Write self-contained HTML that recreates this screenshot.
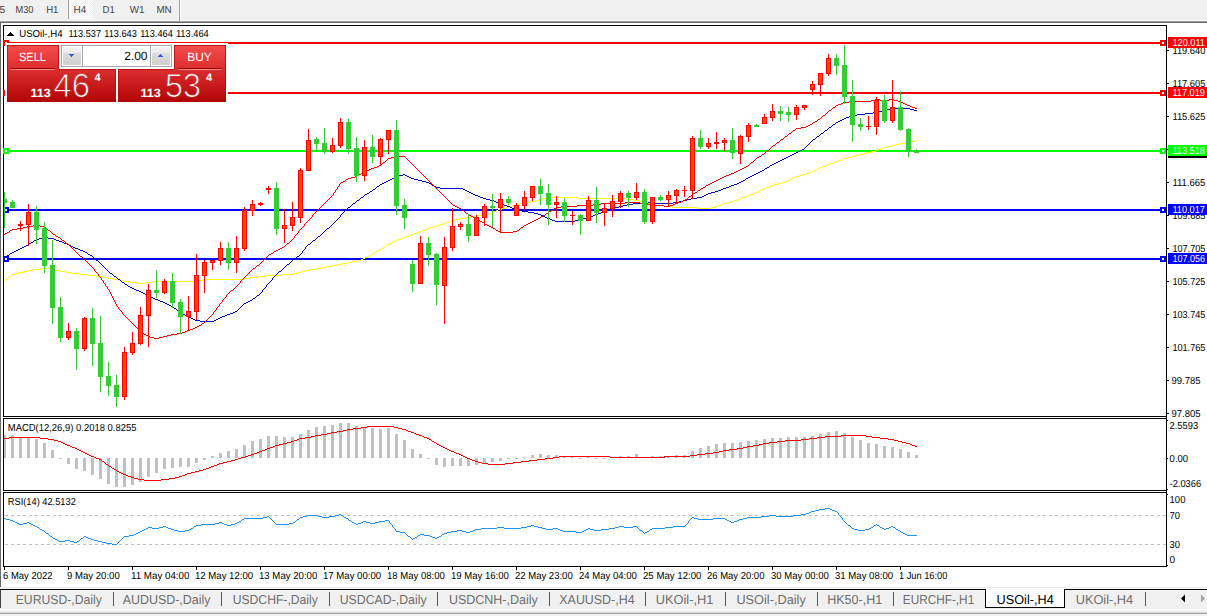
<!DOCTYPE html>
<html><head><meta charset="utf-8"><title>USOil-,H4</title>
<style>html,body{margin:0;padding:0;background:#fff;overflow:hidden}svg{display:block;font-family:"Liberation Sans",sans-serif;text-rendering:geometricPrecision}</style>
</head><body>
<svg width="1207" height="616" viewBox="0 0 1207 616" shape-rendering="crispEdges">
<defs>
<pattern id="chk" width="2" height="2" patternUnits="userSpaceOnUse"><rect width="2" height="2" fill="#f0f0f0"/><rect width="1" height="1" fill="#fff"/><rect x="1" y="1" width="1" height="1" fill="#fff"/></pattern>
<linearGradient id="gr" gradientUnits="userSpaceOnUse" x1="0" y1="45" x2="0" y2="102"><stop offset="0" stop-color="#f64d4d"/><stop offset="0.45" stop-color="#da2c2c"/><stop offset="1" stop-color="#b20505"/></linearGradient>
<linearGradient id="bt" x1="0" y1="0" x2="0" y2="1"><stop offset="0" stop-color="#f2f2f2"/><stop offset="0.35" stop-color="#ebebeb"/><stop offset="0.36" stop-color="#dcdcdc"/><stop offset="1" stop-color="#cfcfcf"/></linearGradient>
<clipPath id="cm"><rect x="4" y="26" width="1162" height="390"/></clipPath>
<clipPath id="cm2"><rect x="4" y="419" width="1162" height="71"/></clipPath>
</defs>
<rect x="0" y="0" width="1207" height="616" fill="#fff"/>
<rect x="0" y="0" width="1207" height="20" fill="#f0f0f0"/>
<rect x="0" y="20" width="1207" height="1" fill="#f8f8f8"/>
<rect x="0" y="21" width="1207" height="1" fill="#a0a0a0"/>
<rect x="0" y="22" width="1207" height="1" fill="#696969"/>
<rect x="0" y="22" width="1" height="565" fill="#696969"/>
<rect x="69" y="0" width="24" height="19" fill="url(#chk)"/>
<rect x="68" y="0" width="1" height="19" fill="#a0a0a0"/>
<rect x="179" y="0" width="1" height="21" fill="#a0a0a0"/>
<rect x="180" y="0" width="1" height="21" fill="#ffffff"/>
<text x="-0.5" y="13" font-size="10.2" fill="#3a3a3a">5</text>
<text x="15.5" y="13" font-size="10.2" fill="#444" textLength="18.0" lengthAdjust="spacingAndGlyphs">M30</text>
<text x="46.2" y="13" font-size="10.2" fill="#444" textLength="12.2" lengthAdjust="spacingAndGlyphs">H1</text>
<text x="73.5" y="13" font-size="10.2" fill="#444" textLength="12.7" lengthAdjust="spacingAndGlyphs">H4</text>
<text x="102.5" y="13" font-size="10.2" fill="#444" textLength="12.2" lengthAdjust="spacingAndGlyphs">D1</text>
<text x="129.8" y="13" font-size="10.2" fill="#444" textLength="14.8" lengthAdjust="spacingAndGlyphs">W1</text>
<text x="156.4" y="13" font-size="10.2" fill="#444" textLength="15.2" lengthAdjust="spacingAndGlyphs">MN</text>
<rect x="3" y="25" width="1164" height="1" fill="#000"/>
<rect x="3" y="25" width="1" height="542" fill="#000"/>
<rect x="1166" y="25" width="1" height="542" fill="#000"/>
<rect x="3" y="416" width="1164" height="1" fill="#000"/>
<rect x="3" y="417" width="1163" height="1" fill="#fff"/>
<rect x="3" y="418" width="1164" height="1" fill="#000"/>
<rect x="3" y="490" width="1164" height="1" fill="#000"/>
<rect x="3" y="491" width="1163" height="1" fill="#fff"/>
<rect x="3" y="492" width="1164" height="1" fill="#000"/>
<rect x="3" y="566" width="1164" height="1" fill="#000"/>
<rect x="4" y="42" width="1162" height="2" fill="#ff0000"/>
<rect x="3" y="40" width="6" height="6" fill="#ff0000"/>
<rect x="5" y="42" width="2" height="2" fill="#fff"/>
<rect x="1160" y="40" width="6" height="6" fill="#ff0000"/>
<rect x="1162" y="42" width="2" height="2" fill="#fff"/>
<rect x="4" y="92" width="1162" height="2" fill="#ff0000"/>
<rect x="3" y="90" width="6" height="6" fill="#ff0000"/>
<rect x="5" y="92" width="2" height="2" fill="#fff"/>
<rect x="1160" y="90" width="6" height="6" fill="#ff0000"/>
<rect x="1162" y="92" width="2" height="2" fill="#fff"/>
<rect x="4" y="150" width="1162" height="2" fill="#00ff00"/>
<rect x="3" y="148" width="6" height="6" fill="#00ff00"/>
<rect x="5" y="150" width="2" height="2" fill="#fff"/>
<rect x="1160" y="148" width="6" height="6" fill="#00ff00"/>
<rect x="1162" y="150" width="2" height="2" fill="#fff"/>
<rect x="4" y="209" width="1162" height="2" fill="#0000ff"/>
<rect x="3" y="207" width="6" height="6" fill="#0000ff"/>
<rect x="5" y="209" width="2" height="2" fill="#fff"/>
<rect x="1160" y="207" width="6" height="6" fill="#0000ff"/>
<rect x="1162" y="209" width="2" height="2" fill="#fff"/>
<rect x="4" y="258" width="1162" height="2" fill="#0000ff"/>
<rect x="3" y="256" width="6" height="6" fill="#0000ff"/>
<rect x="5" y="258" width="2" height="2" fill="#fff"/>
<rect x="1160" y="256" width="6" height="6" fill="#0000ff"/>
<rect x="1162" y="258" width="2" height="2" fill="#fff"/>
<path d="M915 140h2v1h-2zM911 141h4v1h-4zM905 142h6v1h-6zM899 143h6v1h-6zM895 144h4v1h-4zM891 145h4v1h-4zM887 146h4v1h-4zM883 147h4v1h-4zM881 148h2v1h-2zM878 149h3v1h-3zM875 150h3v1h-3zM871 151h4v1h-4zM867 152h4v1h-4zM863 153h4v1h-4zM859 154h4v1h-4zM855 155h4v1h-4zM851 156h4v1h-4zM847 157h4v1h-4zM843 158h4v1h-4zM841 159h2v1h-2zM838 160h3v1h-3zM835 161h3v1h-3zM833 162h2v1h-2zM830 163h3v1h-3zM827 164h3v1h-3zM825 165h2v1h-2zM822 166h3v1h-3zM820 167h2v1h-2zM818 168h2v1h-2zM816 169h2v1h-2zM814 170h2v1h-2zM811 171h3v1h-3zM809 172h2v1h-2zM806 173h3v1h-3zM803 174h3v1h-3zM799 175h4v1h-4zM795 176h4v1h-4zM793 177h2v1h-2zM791 178h2v1h-2zM789 179h2v1h-2zM787 180h2v1h-2zM785 181h2v1h-2zM782 182h3v1h-3zM778 183h4v1h-4zM774 184h4v1h-4zM771 185h3v1h-3zM769 186h2v1h-2zM766 187h3v1h-3zM764 188h2v1h-2zM762 189h2v1h-2zM760 190h2v1h-2zM758 191h2v1h-2zM755 192h3v1h-3zM753 193h2v1h-2zM750 194h3v1h-3zM747 195h3v1h-3zM745 196h2v1h-2zM547 197h31v1h-31zM742 197h3v1h-3zM543 198h4v1h-4zM578 198h48v1h-48zM739 198h3v1h-3zM539 199h4v1h-4zM626 199h8v1h-8zM737 199h2v1h-2zM535 200h4v1h-4zM634 200h5v1h-5zM734 200h3v1h-3zM529 201h6v1h-6zM639 201h4v1h-4zM731 201h3v1h-3zM523 202h6v1h-6zM643 202h4v1h-4zM727 202h4v1h-4zM519 203h4v1h-4zM647 203h4v1h-4zM723 203h4v1h-4zM515 204h4v1h-4zM651 204h5v1h-5zM721 204h2v1h-2zM512 205h3v1h-3zM656 205h8v1h-8zM718 205h3v1h-3zM508 206h4v1h-4zM664 206h8v1h-8zM715 206h3v1h-3zM505 207h3v1h-3zM672 207h25v1h-25zM711 207h4v1h-4zM502 208h3v1h-3zM697 208h14v1h-14zM498 209h4v1h-4zM496 210h2v1h-2zM494 211h2v1h-2zM492 212h2v1h-2zM490 213h2v1h-2zM483 214h7v1h-7zM475 215h8v1h-8zM471 216h4v1h-4zM465 217h6v1h-6zM459 218h6v1h-6zM455 219h4v1h-4zM451 220h4v1h-4zM449 221h2v1h-2zM446 222h3v1h-3zM443 223h3v1h-3zM440 224h3v1h-3zM437 225h3v1h-3zM433 226h4v1h-4zM430 227h3v1h-3zM427 228h3v1h-3zM425 229h2v1h-2zM422 230h3v1h-3zM419 231h3v1h-3zM417 232h2v1h-2zM414 233h3v1h-3zM411 234h3v1h-3zM409 235h2v1h-2zM406 236h3v1h-3zM403 237h3v1h-3zM401 238h2v1h-2zM398 239h3v1h-3zM396 240h2v1h-2zM394 241h2v1h-2zM392 242h2v1h-2zM390 243h2v1h-2zM388 244h2v1h-2zM386 245h2v1h-2zM385 246h1v1h-1zM383 247h2v1h-2zM381 248h2v1h-2zM379 249h2v1h-2zM378 250h1v1h-1zM376 251h2v1h-2zM374 252h2v1h-2zM373 253h1v1h-1zM371 254h2v1h-2zM369 255h2v1h-2zM367 256h2v1h-2zM365 257h2v1h-2zM363 258h2v1h-2zM361 259h2v1h-2zM357 260h4v1h-4zM352 261h5v1h-5zM347 262h5v1h-5zM342 263h5v1h-5zM337 264h5v1h-5zM332 265h5v1h-5zM326 266h6v1h-6zM321 267h5v1h-5zM41 268h9v1h-9zM315 268h6v1h-6zM33 269h8v1h-8zM50 269h4v1h-4zM309 269h6v1h-6zM27 270h6v1h-6zM54 270h5v1h-5zM305 270h4v1h-4zM23 271h4v1h-4zM59 271h6v1h-6zM301 271h4v1h-4zM19 272h4v1h-4zM65 272h7v1h-7zM298 272h3v1h-3zM15 273h4v1h-4zM72 273h8v1h-8zM294 273h4v1h-4zM12 274h3v1h-3zM80 274h8v1h-8zM281 274h13v1h-13zM11 275h1v1h-1zM88 275h8v1h-8zM265 275h16v1h-16zM9 276h2v1h-2zM96 276h7v1h-7zM257 276h8v1h-8zM8 277h1v1h-1zM103 277h5v1h-5zM250 277h7v1h-7zM7 278h1v1h-1zM108 278h6v1h-6zM244 278h6v1h-6zM5 279h2v1h-2zM114 279h5v1h-5zM203 279h41v1h-41zM4 280h1v1h-1zM119 280h5v1h-5zM197 280h6v1h-6zM124 281h6v1h-6zM153 281h44v1h-44zM130 282h7v1h-7zM145 282h8v1h-8zM137 283h8v1h-8z" fill="#ffff00"/>
<path d="M891 108h19v1h-19zM887 109h4v1h-4zM910 109h4v1h-4zM883 110h4v1h-4zM914 110h3v1h-3zM879 111h4v1h-4zM873 112h6v1h-6zM865 113h8v1h-8zM857 114h8v1h-8zM851 115h6v1h-6zM849 116h2v1h-2zM846 117h3v1h-3zM844 118h2v1h-2zM842 119h2v1h-2zM840 120h2v1h-2zM838 121h2v1h-2zM836 122h2v1h-2zM835 123h1v1h-1zM833 124h2v1h-2zM832 125h1v1h-1zM831 126h1v1h-1zM829 127h2v1h-2zM828 128h1v1h-1zM827 129h1v1h-1zM825 130h2v1h-2zM824 131h1v1h-1zM823 132h1v1h-1zM821 133h2v1h-2zM820 134h1v1h-1zM819 135h1v1h-1zM817 136h2v1h-2zM816 137h1v1h-1zM815 138h1v1h-1zM813 139h2v1h-2zM812 140h1v1h-1zM811 141h1v1h-1zM810 142h1v1h-1zM809 143h1v1h-1zM808 144h1v1h-1zM807 145h1v1h-1zM806 146h1v1h-1zM805 147h1v1h-1zM804 148h1v1h-1zM802 149h2v1h-2zM800 150h2v1h-2zM798 151h2v1h-2zM796 152h2v1h-2zM794 153h2v1h-2zM792 154h2v1h-2zM790 155h2v1h-2zM788 156h2v1h-2zM786 157h2v1h-2zM784 158h2v1h-2zM782 159h2v1h-2zM780 160h2v1h-2zM778 161h2v1h-2zM776 162h2v1h-2zM774 163h2v1h-2zM772 164h2v1h-2zM770 165h2v1h-2zM769 166h1v1h-1zM767 167h2v1h-2zM765 168h2v1h-2zM764 169h1v1h-1zM762 170h2v1h-2zM760 171h2v1h-2zM758 172h2v1h-2zM756 173h2v1h-2zM403 174h2v1h-2zM754 174h2v1h-2zM399 175h4v1h-4zM405 175h2v1h-2zM752 175h2v1h-2zM396 176h3v1h-3zM407 176h2v1h-2zM750 176h2v1h-2zM394 177h2v1h-2zM409 177h2v1h-2zM748 177h2v1h-2zM392 178h2v1h-2zM411 178h3v1h-3zM746 178h2v1h-2zM390 179h2v1h-2zM414 179h4v1h-4zM745 179h1v1h-1zM388 180h2v1h-2zM418 180h4v1h-4zM743 180h2v1h-2zM386 181h2v1h-2zM422 181h4v1h-4zM741 181h2v1h-2zM384 182h2v1h-2zM426 182h3v1h-3zM739 182h2v1h-2zM382 183h2v1h-2zM429 183h2v1h-2zM737 183h2v1h-2zM380 184h2v1h-2zM431 184h1v1h-1zM734 184h3v1h-3zM379 185h1v1h-1zM432 185h2v1h-2zM731 185h3v1h-3zM377 186h2v1h-2zM434 186h2v1h-2zM729 186h2v1h-2zM376 187h1v1h-1zM436 187h4v1h-4zM726 187h3v1h-3zM375 188h1v1h-1zM440 188h23v1h-23zM723 188h3v1h-3zM373 189h2v1h-2zM463 189h2v1h-2zM721 189h2v1h-2zM372 190h1v1h-1zM465 190h2v1h-2zM718 190h3v1h-3zM370 191h2v1h-2zM467 191h2v1h-2zM715 191h3v1h-3zM369 192h1v1h-1zM469 192h2v1h-2zM711 192h4v1h-4zM367 193h2v1h-2zM471 193h2v1h-2zM708 193h3v1h-3zM365 194h2v1h-2zM473 194h2v1h-2zM706 194h2v1h-2zM364 195h1v1h-1zM475 195h3v1h-3zM704 195h2v1h-2zM363 196h1v1h-1zM478 196h2v1h-2zM702 196h2v1h-2zM361 197h2v1h-2zM480 197h3v1h-3zM697 197h5v1h-5zM360 198h1v1h-1zM483 198h3v1h-3zM691 198h6v1h-6zM359 199h1v1h-1zM486 199h4v1h-4zM687 199h4v1h-4zM357 200h2v1h-2zM490 200h4v1h-4zM683 200h4v1h-4zM356 201h1v1h-1zM494 201h2v1h-2zM679 201h4v1h-4zM355 202h1v1h-1zM496 202h3v1h-3zM648 202h2v1h-2zM673 202h6v1h-6zM353 203h2v1h-2zM499 203h3v1h-3zM633 203h10v1h-10zM646 203h2v1h-2zM650 203h23v1h-23zM352 204h1v1h-1zM502 204h2v1h-2zM627 204h6v1h-6zM643 204h3v1h-3zM351 205h1v1h-1zM504 205h3v1h-3zM623 205h4v1h-4zM350 206h1v1h-1zM507 206h3v1h-3zM619 206h4v1h-4zM348 207h2v1h-2zM510 207h2v1h-2zM615 207h4v1h-4zM347 208h1v1h-1zM512 208h3v1h-3zM611 208h4v1h-4zM346 209h1v1h-1zM515 209h3v1h-3zM609 209h2v1h-2zM345 210h1v1h-1zM518 210h4v1h-4zM606 210h3v1h-3zM344 211h1v1h-1zM522 211h6v1h-6zM603 211h3v1h-3zM343 212h1v1h-1zM528 212h6v1h-6zM601 212h2v1h-2zM342 213h1v1h-1zM534 213h4v1h-4zM598 213h3v1h-3zM341 214h1v1h-1zM538 214h3v1h-3zM595 214h3v1h-3zM340 215h1v2h-1zM541 215h2v1h-2zM593 215h2v1h-2zM543 216h2v1h-2zM590 216h3v1h-3zM339 217h1v1h-1zM545 217h2v1h-2zM587 217h3v1h-3zM338 218h1v1h-1zM547 218h3v1h-3zM583 218h4v1h-4zM337 219h1v1h-1zM550 219h2v1h-2zM579 219h4v1h-4zM336 220h1v1h-1zM552 220h3v1h-3zM575 220h4v1h-4zM335 221h1v1h-1zM555 221h20v1h-20zM334 222h1v1h-1zM333 223h1v1h-1zM332 224h1v1h-1zM331 225h1v1h-1zM330 226h1v1h-1zM329 227h1v1h-1zM327 228h2v1h-2zM326 229h1v1h-1zM325 230h1v1h-1zM324 231h1v1h-1zM323 232h1v1h-1zM322 233h1v1h-1zM321 234h1v1h-1zM320 235h1v1h-1zM318 236h2v1h-2zM43 237h5v1h-5zM317 237h1v1h-1zM39 238h4v1h-4zM48 238h6v1h-6zM316 238h1v1h-1zM36 239h3v1h-3zM54 239h2v1h-2zM315 239h1v1h-1zM34 240h2v1h-2zM56 240h3v1h-3zM313 240h2v1h-2zM33 241h1v1h-1zM59 241h3v1h-3zM312 241h1v1h-1zM31 242h2v1h-2zM62 242h2v1h-2zM311 242h1v1h-1zM29 243h2v1h-2zM64 243h3v1h-3zM310 243h1v1h-1zM28 244h1v1h-1zM67 244h2v1h-2zM308 244h2v1h-2zM26 245h2v1h-2zM69 245h2v1h-2zM307 245h1v1h-1zM24 246h2v1h-2zM71 246h2v1h-2zM306 246h1v1h-1zM22 247h2v1h-2zM73 247h2v1h-2zM305 247h1v2h-1zM20 248h2v1h-2zM75 248h3v1h-3zM18 249h2v1h-2zM78 249h2v1h-2zM304 249h1v1h-1zM16 250h2v1h-2zM80 250h3v1h-3zM303 250h1v1h-1zM14 251h2v1h-2zM83 251h2v1h-2zM302 251h1v2h-1zM12 252h2v1h-2zM85 252h2v1h-2zM10 253h2v1h-2zM87 253h1v1h-1zM301 253h1v1h-1zM9 254h1v1h-1zM88 254h2v1h-2zM300 254h1v1h-1zM7 255h2v1h-2zM90 255h2v1h-2zM299 255h1v1h-1zM5 256h2v1h-2zM92 256h1v1h-1zM297 256h2v1h-2zM4 257h1v1h-1zM93 257h1v1h-1zM296 257h1v1h-1zM94 258h1v1h-1zM295 258h1v1h-1zM95 259h1v1h-1zM293 259h2v1h-2zM96 260h2v1h-2zM292 260h1v1h-1zM98 261h1v1h-1zM291 261h1v1h-1zM99 262h1v1h-1zM290 262h1v1h-1zM100 263h1v1h-1zM289 263h1v1h-1zM101 264h1v1h-1zM287 264h2v1h-2zM102 265h1v1h-1zM286 265h1v1h-1zM103 266h1v1h-1zM285 266h1v1h-1zM104 267h1v1h-1zM284 267h1v1h-1zM105 268h1v1h-1zM283 268h1v1h-1zM106 269h1v1h-1zM282 269h1v1h-1zM107 270h1v1h-1zM281 270h1v1h-1zM108 271h1v1h-1zM279 271h2v1h-2zM109 272h1v1h-1zM278 272h1v1h-1zM110 273h2v1h-2zM277 273h1v1h-1zM112 274h1v1h-1zM276 274h1v1h-1zM113 275h1v1h-1zM275 275h1v1h-1zM114 276h2v1h-2zM274 276h1v1h-1zM116 277h1v1h-1zM273 277h1v1h-1zM117 278h1v1h-1zM272 278h1v2h-1zM118 279h2v1h-2zM120 280h1v1h-1zM271 280h1v1h-1zM121 281h1v1h-1zM270 281h1v1h-1zM122 282h2v1h-2zM269 282h1v1h-1zM124 283h1v1h-1zM268 283h1v1h-1zM125 284h2v1h-2zM267 284h1v1h-1zM127 285h1v1h-1zM266 285h1v2h-1zM128 286h2v1h-2zM130 287h2v1h-2zM265 287h1v1h-1zM132 288h2v1h-2zM264 288h1v1h-1zM134 289h2v1h-2zM263 289h1v1h-1zM136 290h3v1h-3zM262 290h1v2h-1zM139 291h2v1h-2zM141 292h2v1h-2zM261 292h1v1h-1zM143 293h2v1h-2zM260 293h1v1h-1zM145 294h2v1h-2zM259 294h1v1h-1zM147 295h2v1h-2zM257 295h2v1h-2zM149 296h2v1h-2zM256 296h1v1h-1zM151 297h2v1h-2zM255 297h1v1h-1zM153 298h2v1h-2zM253 298h2v1h-2zM155 299h3v1h-3zM252 299h1v1h-1zM158 300h2v1h-2zM250 300h2v1h-2zM160 301h3v1h-3zM248 301h2v1h-2zM163 302h2v1h-2zM246 302h2v1h-2zM165 303h2v1h-2zM244 303h2v1h-2zM167 304h2v1h-2zM243 304h1v1h-1zM169 305h2v1h-2zM242 305h1v1h-1zM171 306h2v1h-2zM241 306h1v1h-1zM173 307h1v1h-1zM240 307h1v1h-1zM174 308h2v1h-2zM239 308h1v1h-1zM176 309h1v1h-1zM238 309h1v1h-1zM177 310h1v1h-1zM237 310h1v1h-1zM178 311h2v1h-2zM235 311h2v1h-2zM180 312h1v1h-1zM233 312h2v1h-2zM181 313h2v1h-2zM230 313h3v1h-3zM183 314h2v1h-2zM227 314h3v1h-3zM185 315h2v1h-2zM225 315h2v1h-2zM187 316h2v1h-2zM222 316h3v1h-3zM189 317h2v1h-2zM220 317h2v1h-2zM191 318h2v1h-2zM218 318h2v1h-2zM193 319h2v1h-2zM216 319h2v1h-2zM195 320h5v1h-5zM214 320h2v1h-2zM200 321h14v1h-14z" fill="#0000cd"/>
<path d="M875 99h5v1h-5zM889 99h5v1h-5zM871 100h4v1h-4zM880 100h9v1h-9zM894 100h4v1h-4zM849 101h22v1h-22zM898 101h3v1h-3zM843 102h6v1h-6zM901 102h2v1h-2zM841 103h2v1h-2zM903 103h2v1h-2zM838 104h3v1h-3zM905 104h2v1h-2zM836 105h2v1h-2zM907 105h3v1h-3zM835 106h1v1h-1zM910 106h2v1h-2zM833 107h2v1h-2zM912 107h3v1h-3zM832 108h1v1h-1zM915 108h2v1h-2zM831 109h1v1h-1zM829 110h2v1h-2zM828 111h1v1h-1zM827 112h1v1h-1zM826 113h1v1h-1zM825 114h1v1h-1zM823 115h2v1h-2zM822 116h1v1h-1zM821 117h1v1h-1zM820 118h1v1h-1zM818 119h2v1h-2zM817 120h1v1h-1zM815 121h2v1h-2zM813 122h2v1h-2zM812 123h1v1h-1zM810 124h2v1h-2zM808 125h2v1h-2zM806 126h2v1h-2zM801 127h5v1h-5zM796 128h5v1h-5zM795 129h1v1h-1zM793 130h2v1h-2zM792 131h1v1h-1zM791 132h1v1h-1zM789 133h2v1h-2zM788 134h1v1h-1zM787 135h1v1h-1zM785 136h2v1h-2zM784 137h1v1h-1zM783 138h1v1h-1zM781 139h2v1h-2zM780 140h1v1h-1zM779 141h1v1h-1zM777 142h2v1h-2zM776 143h1v1h-1zM775 144h1v1h-1zM773 145h2v1h-2zM772 146h1v1h-1zM771 147h1v1h-1zM770 148h1v1h-1zM769 149h1v1h-1zM767 150h2v1h-2zM766 151h1v1h-1zM765 152h1v1h-1zM764 153h1v1h-1zM762 154h2v1h-2zM761 155h1v1h-1zM395 156h10v1h-10zM759 156h2v1h-2zM391 157h4v1h-4zM405 157h1v1h-1zM757 157h2v1h-2zM388 158h3v1h-3zM406 158h1v1h-1zM756 158h1v1h-1zM387 159h1v1h-1zM407 159h1v1h-1zM755 159h1v1h-1zM386 160h1v1h-1zM408 160h1v1h-1zM754 160h1v1h-1zM385 161h1v1h-1zM409 161h1v1h-1zM753 161h1v1h-1zM383 162h2v1h-2zM410 162h1v1h-1zM751 162h2v1h-2zM382 163h1v1h-1zM411 163h1v1h-1zM750 163h1v1h-1zM381 164h1v1h-1zM412 164h1v1h-1zM749 164h1v1h-1zM379 165h2v1h-2zM413 165h1v1h-1zM748 165h1v1h-1zM377 166h2v1h-2zM414 166h1v1h-1zM746 166h2v1h-2zM374 167h3v1h-3zM415 167h1v1h-1zM744 167h2v1h-2zM371 168h3v1h-3zM416 168h1v1h-1zM742 168h2v1h-2zM369 169h2v1h-2zM417 169h1v1h-1zM740 169h2v1h-2zM366 170h3v1h-3zM418 170h1v1h-1zM738 170h2v1h-2zM364 171h2v1h-2zM419 171h1v1h-1zM736 171h2v1h-2zM362 172h2v1h-2zM420 172h1v1h-1zM734 172h2v1h-2zM361 173h1v1h-1zM421 173h1v1h-1zM731 173h3v1h-3zM359 174h2v1h-2zM422 174h1v1h-1zM729 174h2v1h-2zM357 175h2v1h-2zM423 175h1v1h-1zM726 175h3v1h-3zM355 176h2v1h-2zM424 176h1v1h-1zM724 176h2v1h-2zM351 177h4v1h-4zM425 177h1v1h-1zM722 177h2v1h-2zM348 178h3v1h-3zM426 178h1v1h-1zM720 178h2v1h-2zM346 179h2v1h-2zM427 179h1v1h-1zM718 179h2v1h-2zM345 180h1v1h-1zM428 180h1v1h-1zM716 180h2v1h-2zM343 181h2v1h-2zM429 181h1v1h-1zM714 181h2v1h-2zM341 182h2v1h-2zM430 182h1v1h-1zM712 182h2v1h-2zM340 183h1v1h-1zM431 183h1v1h-1zM710 183h2v1h-2zM339 184h1v2h-1zM432 184h1v1h-1zM708 184h2v1h-2zM433 185h1v1h-1zM706 185h2v1h-2zM338 186h1v1h-1zM434 186h1v1h-1zM705 186h1v1h-1zM337 187h1v2h-1zM435 187h1v1h-1zM703 187h2v1h-2zM436 188h1v1h-1zM701 188h2v1h-2zM336 189h1v1h-1zM437 189h1v1h-1zM700 189h1v1h-1zM335 190h1v2h-1zM438 190h1v1h-1zM698 190h2v1h-2zM439 191h1v1h-1zM697 191h1v1h-1zM334 192h1v1h-1zM440 192h1v1h-1zM695 192h2v1h-2zM333 193h1v2h-1zM441 193h1v1h-1zM693 193h2v1h-2zM442 194h1v1h-1zM692 194h1v1h-1zM332 195h1v1h-1zM443 195h1v1h-1zM691 195h1v1h-1zM331 196h1v1h-1zM444 196h1v1h-1zM689 196h2v1h-2zM330 197h1v1h-1zM445 197h1v1h-1zM688 197h1v1h-1zM329 198h1v1h-1zM446 198h1v1h-1zM687 198h1v1h-1zM328 199h1v1h-1zM447 199h1v1h-1zM685 199h2v1h-2zM327 200h1v1h-1zM448 200h1v1h-1zM683 200h2v1h-2zM326 201h1v1h-1zM449 201h1v1h-1zM681 201h2v1h-2zM325 202h1v1h-1zM450 202h1v1h-1zM625 202h15v1h-15zM678 202h3v1h-3zM324 203h1v1h-1zM451 203h1v1h-1zM601 203h24v1h-24zM640 203h6v1h-6zM675 203h3v1h-3zM323 204h1v1h-1zM452 204h1v1h-1zM593 204h8v1h-8zM646 204h4v1h-4zM673 204h2v1h-2zM322 205h1v1h-1zM453 205h2v1h-2zM577 205h16v1h-16zM650 205h14v1h-14zM670 205h3v1h-3zM321 206h1v1h-1zM455 206h2v1h-2zM561 206h16v1h-16zM664 206h6v1h-6zM320 207h1v1h-1zM457 207h2v1h-2zM556 207h5v1h-5zM319 208h1v1h-1zM459 208h2v1h-2zM554 208h2v1h-2zM318 209h1v1h-1zM461 209h1v1h-1zM553 209h1v1h-1zM317 210h1v1h-1zM462 210h2v1h-2zM551 210h2v1h-2zM316 211h1v1h-1zM464 211h1v1h-1zM549 211h2v1h-2zM315 212h1v1h-1zM465 212h1v1h-1zM548 212h1v1h-1zM314 213h1v1h-1zM466 213h2v1h-2zM546 213h2v1h-2zM313 214h1v1h-1zM468 214h1v1h-1zM545 214h1v1h-1zM312 215h1v2h-1zM469 215h2v1h-2zM543 215h2v1h-2zM471 216h2v1h-2zM541 216h2v1h-2zM311 217h1v1h-1zM473 217h2v1h-2zM540 217h1v1h-1zM310 218h1v1h-1zM475 218h2v1h-2zM538 218h2v1h-2zM309 219h1v1h-1zM477 219h2v1h-2zM536 219h2v1h-2zM308 220h1v1h-1zM479 220h1v1h-1zM534 220h2v1h-2zM307 221h1v1h-1zM480 221h2v1h-2zM532 221h2v1h-2zM306 222h1v1h-1zM482 222h2v1h-2zM530 222h2v1h-2zM305 223h1v1h-1zM484 223h1v1h-1zM528 223h2v1h-2zM304 224h1v2h-1zM485 224h2v1h-2zM526 224h2v1h-2zM33 225h7v1h-7zM487 225h2v1h-2zM524 225h2v1h-2zM27 226h6v1h-6zM40 226h5v1h-5zM303 226h1v1h-1zM489 226h2v1h-2zM523 226h1v1h-1zM23 227h4v1h-4zM45 227h1v1h-1zM302 227h1v1h-1zM491 227h2v1h-2zM521 227h2v1h-2zM17 228h6v1h-6zM46 228h1v1h-1zM301 228h1v1h-1zM493 228h2v1h-2zM520 228h1v1h-1zM12 229h5v1h-5zM47 229h1v1h-1zM300 229h1v1h-1zM495 229h1v1h-1zM519 229h1v1h-1zM10 230h2v1h-2zM48 230h2v1h-2zM299 230h1v1h-1zM496 230h2v1h-2zM517 230h2v1h-2zM9 231h1v1h-1zM50 231h1v1h-1zM298 231h1v2h-1zM498 231h2v1h-2zM513 231h4v1h-4zM7 232h2v1h-2zM51 232h1v1h-1zM500 232h13v1h-13zM5 233h2v1h-2zM52 233h1v1h-1zM297 233h1v1h-1zM4 234h1v1h-1zM53 234h2v1h-2zM296 234h1v1h-1zM55 235h1v1h-1zM295 235h1v1h-1zM56 236h2v1h-2zM294 236h1v2h-1zM58 237h2v1h-2zM60 238h1v1h-1zM293 238h1v1h-1zM61 239h1v1h-1zM292 239h1v1h-1zM62 240h2v1h-2zM291 240h1v1h-1zM64 241h1v1h-1zM290 241h1v1h-1zM65 242h1v1h-1zM289 242h1v1h-1zM66 243h2v1h-2zM287 243h2v1h-2zM68 244h1v1h-1zM286 244h1v1h-1zM69 245h1v1h-1zM285 245h1v1h-1zM70 246h1v1h-1zM284 246h1v1h-1zM71 247h1v1h-1zM282 247h2v1h-2zM72 248h1v1h-1zM280 248h2v1h-2zM73 249h1v1h-1zM278 249h2v1h-2zM74 250h1v1h-1zM276 250h2v1h-2zM75 251h1v1h-1zM274 251h2v1h-2zM76 252h1v1h-1zM273 252h1v1h-1zM77 253h1v1h-1zM271 253h2v1h-2zM78 254h1v1h-1zM269 254h2v1h-2zM79 255h1v1h-1zM268 255h1v1h-1zM80 256h2v1h-2zM267 256h1v1h-1zM82 257h1v1h-1zM266 257h1v1h-1zM83 258h1v1h-1zM265 258h1v1h-1zM84 259h1v1h-1zM264 259h1v1h-1zM85 260h1v1h-1zM263 260h1v1h-1zM86 261h1v1h-1zM262 261h1v1h-1zM87 262h1v1h-1zM261 262h1v1h-1zM88 263h1v1h-1zM260 263h1v1h-1zM89 264h1v1h-1zM259 264h1v1h-1zM90 265h1v1h-1zM257 265h2v1h-2zM91 266h1v1h-1zM256 266h1v1h-1zM92 267h1v1h-1zM255 267h1v1h-1zM93 268h1v1h-1zM253 268h2v1h-2zM94 269h1v2h-1zM252 269h1v1h-1zM251 270h1v1h-1zM95 271h1v1h-1zM250 271h1v1h-1zM96 272h1v1h-1zM249 272h1v1h-1zM97 273h1v1h-1zM248 273h1v1h-1zM98 274h1v2h-1zM247 274h1v1h-1zM246 275h1v1h-1zM99 276h1v1h-1zM245 276h1v1h-1zM100 277h1v1h-1zM244 277h1v1h-1zM101 278h1v2h-1zM243 278h1v1h-1zM242 279h1v1h-1zM102 280h1v1h-1zM241 280h1v1h-1zM103 281h1v2h-1zM240 281h1v2h-1zM104 283h1v1h-1zM239 283h1v1h-1zM105 284h1v2h-1zM238 284h1v1h-1zM237 285h1v1h-1zM106 286h1v1h-1zM236 286h1v1h-1zM107 287h1v2h-1zM235 287h1v1h-1zM234 288h1v1h-1zM108 289h1v1h-1zM233 289h1v1h-1zM109 290h1v2h-1zM231 290h2v1h-2zM230 291h1v1h-1zM110 292h1v2h-1zM229 292h1v1h-1zM228 293h1v1h-1zM111 294h1v2h-1zM227 294h1v1h-1zM226 295h1v2h-1zM112 296h1v2h-1zM225 297h1v1h-1zM113 298h1v2h-1zM224 298h1v1h-1zM223 299h1v1h-1zM114 300h1v2h-1zM222 300h1v2h-1zM115 302h1v2h-1zM221 302h1v1h-1zM220 303h1v1h-1zM116 304h1v2h-1zM219 304h1v2h-1zM117 306h1v1h-1zM218 306h1v1h-1zM118 307h1v2h-1zM217 307h1v1h-1zM216 308h1v2h-1zM119 309h1v1h-1zM120 310h1v1h-1zM215 310h1v1h-1zM121 311h1v1h-1zM214 311h1v1h-1zM122 312h1v2h-1zM213 312h1v2h-1zM123 314h1v1h-1zM212 314h1v1h-1zM124 315h1v1h-1zM211 315h1v1h-1zM125 316h1v1h-1zM210 316h1v1h-1zM126 317h1v1h-1zM209 317h1v1h-1zM127 318h1v1h-1zM208 318h1v1h-1zM128 319h1v1h-1zM207 319h1v1h-1zM129 320h1v1h-1zM206 320h1v1h-1zM130 321h1v1h-1zM205 321h1v1h-1zM131 322h1v1h-1zM204 322h1v1h-1zM132 323h1v1h-1zM202 323h2v1h-2zM133 324h1v1h-1zM201 324h1v1h-1zM134 325h1v1h-1zM199 325h2v1h-2zM135 326h1v1h-1zM197 326h2v1h-2zM136 327h1v1h-1zM195 327h2v1h-2zM137 328h1v1h-1zM193 328h2v1h-2zM138 329h1v1h-1zM190 329h3v1h-3zM139 330h1v1h-1zM187 330h3v1h-3zM140 331h1v1h-1zM185 331h2v1h-2zM141 332h2v1h-2zM182 332h3v1h-3zM143 333h1v1h-1zM177 333h5v1h-5zM144 334h2v1h-2zM171 334h6v1h-6zM146 335h2v1h-2zM167 335h4v1h-4zM148 336h2v1h-2zM163 336h4v1h-4zM150 337h4v1h-4zM159 337h4v1h-4zM154 338h5v1h-5z" fill="#ff0000"/>
<g clip-path="url(#cm)">
<rect x="4" y="192" width="1" height="36" fill="#32cd32"/>
<rect x="2" y="199" width="5" height="4" fill="#32cd32"/>
<rect x="12" y="200" width="1" height="8" fill="#32cd32"/>
<rect x="10" y="202" width="5" height="6" fill="#32cd32"/>
<rect x="20" y="221" width="1" height="10" fill="#ff0000"/>
<rect x="18" y="224" width="5" height="2" fill="#ff0000"/>
<rect x="28" y="204" width="1" height="42" fill="#ff0000"/>
<rect x="26" y="212" width="5" height="13" fill="#ff0000"/>
<rect x="27" y="213" width="3" height="11" fill="#ff4500"/>
<rect x="36" y="206" width="1" height="38" fill="#32cd32"/>
<rect x="34" y="212" width="5" height="18" fill="#32cd32"/>
<rect x="44" y="222" width="1" height="51" fill="#32cd32"/>
<rect x="42" y="228" width="5" height="38" fill="#32cd32"/>
<rect x="52" y="240" width="1" height="84" fill="#32cd32"/>
<rect x="50" y="265" width="5" height="43" fill="#32cd32"/>
<rect x="60" y="297" width="1" height="45" fill="#32cd32"/>
<rect x="58" y="307" width="5" height="31" fill="#32cd32"/>
<rect x="68" y="323" width="1" height="17" fill="#ff0000"/>
<rect x="66" y="331" width="5" height="7" fill="#ff0000"/>
<rect x="67" y="332" width="3" height="5" fill="#ff4500"/>
<rect x="76" y="328" width="1" height="42" fill="#32cd32"/>
<rect x="74" y="331" width="5" height="18" fill="#32cd32"/>
<rect x="84" y="317" width="1" height="34" fill="#ff0000"/>
<rect x="82" y="318" width="5" height="31" fill="#ff0000"/>
<rect x="83" y="319" width="3" height="29" fill="#ff4500"/>
<rect x="92" y="308" width="1" height="58" fill="#32cd32"/>
<rect x="90" y="318" width="5" height="26" fill="#32cd32"/>
<rect x="100" y="316" width="1" height="76" fill="#32cd32"/>
<rect x="98" y="343" width="5" height="34" fill="#32cd32"/>
<rect x="108" y="362" width="1" height="34" fill="#32cd32"/>
<rect x="106" y="376" width="5" height="10" fill="#32cd32"/>
<rect x="116" y="375" width="1" height="32" fill="#32cd32"/>
<rect x="114" y="385" width="5" height="12" fill="#32cd32"/>
<rect x="124" y="347" width="1" height="53" fill="#ff0000"/>
<rect x="122" y="352" width="5" height="45" fill="#ff0000"/>
<rect x="123" y="353" width="3" height="43" fill="#ff4500"/>
<rect x="132" y="332" width="1" height="23" fill="#ff0000"/>
<rect x="130" y="343" width="5" height="10" fill="#ff0000"/>
<rect x="131" y="344" width="3" height="8" fill="#ff4500"/>
<rect x="140" y="307" width="1" height="38" fill="#ff0000"/>
<rect x="138" y="315" width="5" height="29" fill="#ff0000"/>
<rect x="139" y="316" width="3" height="27" fill="#ff4500"/>
<rect x="148" y="284" width="1" height="63" fill="#ff0000"/>
<rect x="146" y="290" width="5" height="26" fill="#ff0000"/>
<rect x="147" y="291" width="3" height="24" fill="#ff4500"/>
<rect x="156" y="270" width="1" height="28" fill="#32cd32"/>
<rect x="154" y="290" width="5" height="3" fill="#32cd32"/>
<rect x="164" y="279" width="1" height="15" fill="#ff0000"/>
<rect x="162" y="281" width="5" height="12" fill="#ff0000"/>
<rect x="163" y="282" width="3" height="10" fill="#ff4500"/>
<rect x="172" y="273" width="1" height="35" fill="#32cd32"/>
<rect x="170" y="281" width="5" height="22" fill="#32cd32"/>
<rect x="180" y="299" width="1" height="35" fill="#32cd32"/>
<rect x="178" y="302" width="5" height="15" fill="#32cd32"/>
<rect x="188" y="296" width="1" height="35" fill="#ff0000"/>
<rect x="186" y="311" width="5" height="6" fill="#ff0000"/>
<rect x="187" y="312" width="3" height="4" fill="#ff4500"/>
<rect x="196" y="254" width="1" height="66" fill="#ff0000"/>
<rect x="194" y="275" width="5" height="37" fill="#ff0000"/>
<rect x="195" y="276" width="3" height="35" fill="#ff4500"/>
<rect x="204" y="260" width="1" height="33" fill="#ff0000"/>
<rect x="202" y="262" width="5" height="14" fill="#ff0000"/>
<rect x="203" y="263" width="3" height="12" fill="#ff4500"/>
<rect x="212" y="260" width="1" height="10" fill="#ff0000"/>
<rect x="210" y="260" width="5" height="3" fill="#ff0000"/>
<rect x="211" y="261" width="3" height="1" fill="#ff4500"/>
<rect x="220" y="242" width="1" height="23" fill="#ff0000"/>
<rect x="218" y="248" width="5" height="13" fill="#ff0000"/>
<rect x="219" y="249" width="3" height="11" fill="#ff4500"/>
<rect x="228" y="242" width="1" height="28" fill="#32cd32"/>
<rect x="226" y="248" width="5" height="15" fill="#32cd32"/>
<rect x="236" y="236" width="1" height="37" fill="#ff0000"/>
<rect x="234" y="248" width="5" height="15" fill="#ff0000"/>
<rect x="235" y="249" width="3" height="13" fill="#ff4500"/>
<rect x="244" y="207" width="1" height="44" fill="#ff0000"/>
<rect x="242" y="210" width="5" height="39" fill="#ff0000"/>
<rect x="243" y="211" width="3" height="37" fill="#ff4500"/>
<rect x="252" y="200" width="1" height="16" fill="#ff0000"/>
<rect x="250" y="204" width="5" height="7" fill="#ff0000"/>
<rect x="251" y="205" width="3" height="5" fill="#ff4500"/>
<rect x="260" y="202" width="1" height="4" fill="#ff0000"/>
<rect x="258" y="203" width="5" height="2" fill="#ff0000"/>
<rect x="268" y="186" width="1" height="8" fill="#ff0000"/>
<rect x="266" y="188" width="5" height="2" fill="#ff0000"/>
<rect x="276" y="182" width="1" height="53" fill="#32cd32"/>
<rect x="274" y="188" width="5" height="41" fill="#32cd32"/>
<rect x="284" y="209" width="1" height="34" fill="#ff0000"/>
<rect x="282" y="225" width="5" height="4" fill="#ff0000"/>
<rect x="283" y="226" width="3" height="2" fill="#ff4500"/>
<rect x="292" y="202" width="1" height="29" fill="#ff0000"/>
<rect x="290" y="217" width="5" height="9" fill="#ff0000"/>
<rect x="291" y="218" width="3" height="7" fill="#ff4500"/>
<rect x="300" y="168" width="1" height="55" fill="#ff0000"/>
<rect x="298" y="170" width="5" height="48" fill="#ff0000"/>
<rect x="299" y="171" width="3" height="46" fill="#ff4500"/>
<rect x="308" y="129" width="1" height="42" fill="#ff0000"/>
<rect x="306" y="140" width="5" height="31" fill="#ff0000"/>
<rect x="307" y="141" width="3" height="29" fill="#ff4500"/>
<rect x="316" y="137" width="1" height="14" fill="#32cd32"/>
<rect x="314" y="139" width="5" height="5" fill="#32cd32"/>
<rect x="324" y="128" width="1" height="26" fill="#32cd32"/>
<rect x="322" y="143" width="5" height="9" fill="#32cd32"/>
<rect x="332" y="138" width="1" height="15" fill="#ff0000"/>
<rect x="330" y="145" width="5" height="7" fill="#ff0000"/>
<rect x="331" y="146" width="3" height="5" fill="#ff4500"/>
<rect x="340" y="118" width="1" height="30" fill="#ff0000"/>
<rect x="338" y="122" width="5" height="24" fill="#ff0000"/>
<rect x="339" y="123" width="3" height="22" fill="#ff4500"/>
<rect x="348" y="119" width="1" height="35" fill="#32cd32"/>
<rect x="346" y="122" width="5" height="27" fill="#32cd32"/>
<rect x="356" y="137" width="1" height="45" fill="#32cd32"/>
<rect x="354" y="148" width="5" height="28" fill="#32cd32"/>
<rect x="364" y="140" width="1" height="41" fill="#ff0000"/>
<rect x="362" y="147" width="5" height="29" fill="#ff0000"/>
<rect x="363" y="148" width="3" height="27" fill="#ff4500"/>
<rect x="372" y="135" width="1" height="28" fill="#32cd32"/>
<rect x="370" y="147" width="5" height="10" fill="#32cd32"/>
<rect x="380" y="138" width="1" height="28" fill="#ff0000"/>
<rect x="378" y="139" width="5" height="18" fill="#ff0000"/>
<rect x="379" y="140" width="3" height="16" fill="#ff4500"/>
<rect x="388" y="130" width="1" height="24" fill="#ff0000"/>
<rect x="386" y="130" width="5" height="10" fill="#ff0000"/>
<rect x="387" y="131" width="3" height="8" fill="#ff4500"/>
<rect x="396" y="120" width="1" height="95" fill="#32cd32"/>
<rect x="394" y="130" width="5" height="76" fill="#32cd32"/>
<rect x="404" y="199" width="1" height="30" fill="#32cd32"/>
<rect x="402" y="205" width="5" height="13" fill="#32cd32"/>
<rect x="412" y="260" width="1" height="32" fill="#32cd32"/>
<rect x="410" y="264" width="5" height="20" fill="#32cd32"/>
<rect x="420" y="236" width="1" height="48" fill="#ff0000"/>
<rect x="418" y="243" width="5" height="41" fill="#ff0000"/>
<rect x="419" y="244" width="3" height="39" fill="#ff4500"/>
<rect x="428" y="237" width="1" height="29" fill="#32cd32"/>
<rect x="426" y="243" width="5" height="12" fill="#32cd32"/>
<rect x="436" y="253" width="1" height="52" fill="#32cd32"/>
<rect x="434" y="254" width="5" height="31" fill="#32cd32"/>
<rect x="444" y="237" width="1" height="87" fill="#ff0000"/>
<rect x="442" y="247" width="5" height="39" fill="#ff0000"/>
<rect x="443" y="248" width="3" height="37" fill="#ff4500"/>
<rect x="452" y="208" width="1" height="43" fill="#ff0000"/>
<rect x="450" y="226" width="5" height="22" fill="#ff0000"/>
<rect x="451" y="227" width="3" height="20" fill="#ff4500"/>
<rect x="460" y="222" width="1" height="8" fill="#ff0000"/>
<rect x="458" y="224" width="5" height="3" fill="#ff0000"/>
<rect x="459" y="225" width="3" height="1" fill="#ff4500"/>
<rect x="468" y="214" width="1" height="28" fill="#32cd32"/>
<rect x="466" y="224" width="5" height="12" fill="#32cd32"/>
<rect x="476" y="215" width="1" height="21" fill="#ff0000"/>
<rect x="474" y="217" width="5" height="19" fill="#ff0000"/>
<rect x="475" y="218" width="3" height="17" fill="#ff4500"/>
<rect x="484" y="204" width="1" height="22" fill="#ff0000"/>
<rect x="482" y="206" width="5" height="12" fill="#ff0000"/>
<rect x="483" y="207" width="3" height="10" fill="#ff4500"/>
<rect x="492" y="194" width="1" height="33" fill="#32cd32"/>
<rect x="490" y="206" width="5" height="2" fill="#32cd32"/>
<rect x="500" y="193" width="1" height="40" fill="#ff0000"/>
<rect x="498" y="199" width="5" height="9" fill="#ff0000"/>
<rect x="499" y="200" width="3" height="7" fill="#ff4500"/>
<rect x="508" y="196" width="1" height="9" fill="#32cd32"/>
<rect x="506" y="199" width="5" height="4" fill="#32cd32"/>
<rect x="516" y="203" width="1" height="13" fill="#ff0000"/>
<rect x="514" y="205" width="5" height="11" fill="#ff0000"/>
<rect x="515" y="206" width="3" height="9" fill="#ff4500"/>
<rect x="524" y="191" width="1" height="19" fill="#ff0000"/>
<rect x="522" y="197" width="5" height="9" fill="#ff0000"/>
<rect x="523" y="198" width="3" height="7" fill="#ff4500"/>
<rect x="532" y="186" width="1" height="15" fill="#ff0000"/>
<rect x="530" y="186" width="5" height="12" fill="#ff0000"/>
<rect x="531" y="187" width="3" height="10" fill="#ff4500"/>
<rect x="540" y="179" width="1" height="26" fill="#32cd32"/>
<rect x="538" y="186" width="5" height="8" fill="#32cd32"/>
<rect x="548" y="184" width="1" height="41" fill="#32cd32"/>
<rect x="546" y="193" width="5" height="12" fill="#32cd32"/>
<rect x="556" y="196" width="1" height="22" fill="#ff0000"/>
<rect x="554" y="202" width="5" height="3" fill="#ff0000"/>
<rect x="555" y="203" width="3" height="1" fill="#ff4500"/>
<rect x="564" y="198" width="1" height="24" fill="#32cd32"/>
<rect x="562" y="202" width="5" height="14" fill="#32cd32"/>
<rect x="572" y="211" width="1" height="14" fill="#ff0000"/>
<rect x="570" y="215" width="5" height="1" fill="#ff0000"/>
<rect x="580" y="214" width="1" height="21" fill="#32cd32"/>
<rect x="578" y="215" width="5" height="6" fill="#32cd32"/>
<rect x="588" y="196" width="1" height="25" fill="#ff0000"/>
<rect x="586" y="200" width="5" height="21" fill="#ff0000"/>
<rect x="587" y="201" width="3" height="19" fill="#ff4500"/>
<rect x="596" y="187" width="1" height="36" fill="#32cd32"/>
<rect x="594" y="200" width="5" height="13" fill="#32cd32"/>
<rect x="604" y="204" width="1" height="22" fill="#ff0000"/>
<rect x="602" y="208" width="5" height="5" fill="#ff0000"/>
<rect x="603" y="209" width="3" height="3" fill="#ff4500"/>
<rect x="612" y="195" width="1" height="22" fill="#ff0000"/>
<rect x="610" y="201" width="5" height="8" fill="#ff0000"/>
<rect x="611" y="202" width="3" height="6" fill="#ff4500"/>
<rect x="620" y="191" width="1" height="17" fill="#ff0000"/>
<rect x="618" y="193" width="5" height="9" fill="#ff0000"/>
<rect x="619" y="194" width="3" height="7" fill="#ff4500"/>
<rect x="628" y="191" width="1" height="16" fill="#32cd32"/>
<rect x="626" y="193" width="5" height="5" fill="#32cd32"/>
<rect x="636" y="183" width="1" height="17" fill="#ff0000"/>
<rect x="634" y="192" width="5" height="6" fill="#ff0000"/>
<rect x="635" y="193" width="3" height="4" fill="#ff4500"/>
<rect x="644" y="189" width="1" height="35" fill="#32cd32"/>
<rect x="642" y="192" width="5" height="30" fill="#32cd32"/>
<rect x="652" y="197" width="1" height="27" fill="#ff0000"/>
<rect x="650" y="197" width="5" height="25" fill="#ff0000"/>
<rect x="651" y="198" width="3" height="23" fill="#ff4500"/>
<rect x="660" y="195" width="1" height="6" fill="#32cd32"/>
<rect x="658" y="197" width="5" height="3" fill="#32cd32"/>
<rect x="668" y="191" width="1" height="16" fill="#ff0000"/>
<rect x="666" y="195" width="5" height="5" fill="#ff0000"/>
<rect x="667" y="196" width="3" height="3" fill="#ff4500"/>
<rect x="676" y="189" width="1" height="14" fill="#ff0000"/>
<rect x="674" y="190" width="5" height="6" fill="#ff0000"/>
<rect x="675" y="191" width="3" height="4" fill="#ff4500"/>
<rect x="684" y="186" width="1" height="11" fill="#ff0000"/>
<rect x="682" y="190" width="5" height="1" fill="#ff0000"/>
<rect x="692" y="136" width="1" height="63" fill="#ff0000"/>
<rect x="690" y="138" width="5" height="53" fill="#ff0000"/>
<rect x="691" y="139" width="3" height="51" fill="#ff4500"/>
<rect x="700" y="130" width="1" height="19" fill="#32cd32"/>
<rect x="698" y="138" width="5" height="9" fill="#32cd32"/>
<rect x="708" y="138" width="1" height="11" fill="#ff0000"/>
<rect x="706" y="143" width="5" height="4" fill="#ff0000"/>
<rect x="707" y="144" width="3" height="2" fill="#ff4500"/>
<rect x="716" y="132" width="1" height="17" fill="#ff0000"/>
<rect x="714" y="142" width="5" height="2" fill="#ff0000"/>
<rect x="724" y="138" width="1" height="13" fill="#ff0000"/>
<rect x="722" y="140" width="5" height="3" fill="#ff0000"/>
<rect x="723" y="141" width="3" height="1" fill="#ff4500"/>
<rect x="732" y="128" width="1" height="31" fill="#32cd32"/>
<rect x="730" y="140" width="5" height="13" fill="#32cd32"/>
<rect x="740" y="135" width="1" height="29" fill="#ff0000"/>
<rect x="738" y="136" width="5" height="18" fill="#ff0000"/>
<rect x="739" y="137" width="3" height="16" fill="#ff4500"/>
<rect x="748" y="123" width="1" height="19" fill="#ff0000"/>
<rect x="746" y="125" width="5" height="12" fill="#ff0000"/>
<rect x="747" y="126" width="3" height="10" fill="#ff4500"/>
<rect x="756" y="124" width="1" height="3" fill="#32cd32"/>
<rect x="754" y="125" width="5" height="2" fill="#32cd32"/>
<rect x="764" y="114" width="1" height="10" fill="#ff0000"/>
<rect x="762" y="117" width="5" height="7" fill="#ff0000"/>
<rect x="763" y="118" width="3" height="5" fill="#ff4500"/>
<rect x="772" y="104" width="1" height="17" fill="#ff0000"/>
<rect x="770" y="111" width="5" height="7" fill="#ff0000"/>
<rect x="771" y="112" width="3" height="5" fill="#ff4500"/>
<rect x="780" y="106" width="1" height="15" fill="#32cd32"/>
<rect x="778" y="111" width="5" height="3" fill="#32cd32"/>
<rect x="788" y="107" width="1" height="15" fill="#32cd32"/>
<rect x="786" y="112" width="5" height="3" fill="#32cd32"/>
<rect x="796" y="105" width="1" height="15" fill="#ff0000"/>
<rect x="794" y="107" width="5" height="8" fill="#ff0000"/>
<rect x="795" y="108" width="3" height="6" fill="#ff4500"/>
<rect x="804" y="105" width="1" height="5" fill="#ff0000"/>
<rect x="802" y="105" width="5" height="3" fill="#ff0000"/>
<rect x="803" y="106" width="3" height="1" fill="#ff4500"/>
<rect x="812" y="81" width="1" height="14" fill="#ff0000"/>
<rect x="810" y="84" width="5" height="6" fill="#ff0000"/>
<rect x="811" y="85" width="3" height="4" fill="#ff4500"/>
<rect x="820" y="73" width="1" height="23" fill="#ff0000"/>
<rect x="818" y="73" width="5" height="12" fill="#ff0000"/>
<rect x="819" y="74" width="3" height="10" fill="#ff4500"/>
<rect x="828" y="54" width="1" height="22" fill="#ff0000"/>
<rect x="826" y="58" width="5" height="16" fill="#ff0000"/>
<rect x="827" y="59" width="3" height="14" fill="#ff4500"/>
<rect x="836" y="54" width="1" height="21" fill="#32cd32"/>
<rect x="834" y="58" width="5" height="8" fill="#32cd32"/>
<rect x="844" y="45" width="1" height="59" fill="#32cd32"/>
<rect x="842" y="65" width="5" height="32" fill="#32cd32"/>
<rect x="852" y="80" width="1" height="62" fill="#32cd32"/>
<rect x="850" y="96" width="5" height="29" fill="#32cd32"/>
<rect x="860" y="118" width="1" height="13" fill="#32cd32"/>
<rect x="858" y="124" width="5" height="3" fill="#32cd32"/>
<rect x="868" y="116" width="1" height="14" fill="#ff0000"/>
<rect x="866" y="126" width="5" height="1" fill="#ff0000"/>
<rect x="876" y="97" width="1" height="38" fill="#ff0000"/>
<rect x="874" y="100" width="5" height="27" fill="#ff0000"/>
<rect x="875" y="101" width="3" height="25" fill="#ff4500"/>
<rect x="884" y="95" width="1" height="28" fill="#32cd32"/>
<rect x="882" y="100" width="5" height="21" fill="#32cd32"/>
<rect x="892" y="80" width="1" height="43" fill="#ff0000"/>
<rect x="890" y="107" width="5" height="14" fill="#ff0000"/>
<rect x="891" y="108" width="3" height="12" fill="#ff4500"/>
<rect x="900" y="91" width="1" height="40" fill="#32cd32"/>
<rect x="898" y="107" width="5" height="23" fill="#32cd32"/>
<rect x="908" y="128" width="1" height="29" fill="#32cd32"/>
<rect x="906" y="129" width="5" height="23" fill="#32cd32"/>
<rect x="916" y="149" width="1" height="4" fill="#32cd32"/>
<rect x="914" y="150" width="5" height="3" fill="#32cd32"/>
</g>
<path d="M10 32h1v1h1v1h1v1h1v1h-7v-1h1v-1h1v-1h1z" fill="#000"/>
<text x="19.2" y="37" font-size="10.2" fill="#000" textLength="43.3" lengthAdjust="spacingAndGlyphs">USOil-,H4</text>
<text x="68.4" y="37" font-size="10.2" fill="#000" textLength="32.7" lengthAdjust="spacingAndGlyphs">113.537</text>
<text x="104.3" y="37" font-size="10.2" fill="#000" textLength="32.5" lengthAdjust="spacingAndGlyphs">113.643</text>
<text x="140.2" y="37" font-size="10.2" fill="#000" textLength="32.6" lengthAdjust="spacingAndGlyphs">113.464</text>
<text x="175.9" y="37" font-size="10.2" fill="#000" textLength="32.9" lengthAdjust="spacingAndGlyphs">113.464</text>
<rect x="5" y="43" width="223" height="61" fill="#fff"/>
<rect x="7" y="45" width="52" height="25" fill="url(#gr)"/>
<rect x="174" y="45" width="52" height="25" fill="url(#gr)"/>
<rect x="7" y="69" width="109" height="33" fill="url(#gr)"/>
<rect x="118" y="69" width="108" height="33" fill="url(#gr)"/>
<rect x="7" y="45" width="1" height="57" fill="#b00a0a" fill-opacity="0.75"/>
<rect x="7" y="45" width="52" height="1" fill="#b00a0a" fill-opacity="0.75"/>
<rect x="58" y="45" width="1" height="24" fill="#b00a0a" fill-opacity="0.75"/>
<rect x="174" y="45" width="52" height="1" fill="#b00a0a" fill-opacity="0.75"/>
<rect x="174" y="45" width="1" height="24" fill="#b00a0a" fill-opacity="0.75"/>
<rect x="225" y="45" width="1" height="57" fill="#b00a0a" fill-opacity="0.75"/>
<rect x="7" y="101" width="109" height="1" fill="#b00a0a" fill-opacity="0.75"/>
<rect x="118" y="101" width="108" height="1" fill="#b00a0a" fill-opacity="0.75"/>
<rect x="115" y="69" width="1" height="33" fill="#b00a0a" fill-opacity="0.75"/>
<rect x="118" y="69" width="1" height="33" fill="#b00a0a" fill-opacity="0.75"/>
<rect x="59" y="69" width="57" height="1" fill="#b00a0a" fill-opacity="0.75"/>
<rect x="118" y="69" width="56" height="1" fill="#b00a0a" fill-opacity="0.75"/>
<rect x="11" y="68" width="44" height="1" fill="#a00000"/>
<rect x="11" y="69" width="44" height="1" fill="#ff8a8a"/>
<rect x="178" y="68" width="44" height="1" fill="#a00000"/>
<rect x="178" y="69" width="44" height="1" fill="#ff8a8a"/>
<text x="32.5" y="61" font-size="12" fill="#fff" textLength="27.0" lengthAdjust="spacingAndGlyphs" text-anchor="middle">SELL</text>
<text x="199.5" y="61" font-size="12" fill="#fff" textLength="24.5" lengthAdjust="spacingAndGlyphs" text-anchor="middle">BUY</text>
<rect x="61" y="45" width="111" height="22" fill="#a3a7b0"/>
<rect x="62" y="46" width="109" height="20" fill="#fff"/>
<rect x="82" y="46" width="1" height="20" fill="#a3a7b0"/>
<rect x="150" y="46" width="1" height="20" fill="#a3a7b0"/>
<rect x="63" y="47" width="18" height="18" fill="url(#bt)"/>
<rect x="152" y="47" width="18" height="18" fill="url(#bt)"/>
<path d="M69 54h5v1h-1v1h-1v1h-1v-1h-1v-1h-1z" fill="#3d5fc4"/>
<path d="M160 54h1v1h1v1h1v1h-5v-1h1v-1h1z" fill="#3d5fc4"/>
<text x="147.5" y="60" font-size="12" fill="#000" text-anchor="end">2.00</text>
<text x="30.4" y="96.6" font-size="12" fill="#fff" textLength="20.5" lengthAdjust="spacingAndGlyphs" font-weight="bold">113</text>
<text x="53.5" y="96.6" font-size="33.5" fill="#fff" textLength="36.5" lengthAdjust="spacingAndGlyphs" stroke="url(#gr)" stroke-width="0.9">46</text>
<text x="94.5" y="81.4" font-size="11" fill="#fff" font-weight="bold">4</text>
<text x="140.4" y="96.6" font-size="12" fill="#fff" textLength="20.5" lengthAdjust="spacingAndGlyphs" font-weight="bold">113</text>
<text x="165" y="96.6" font-size="33.5" fill="#fff" textLength="36.0" lengthAdjust="spacingAndGlyphs" stroke="url(#gr)" stroke-width="0.9">53</text>
<text x="206" y="81.4" font-size="11" fill="#fff" font-weight="bold">4</text>
<rect x="1167" y="50" width="2" height="1" fill="#000"/>
<text x="1172.4" y="54" font-size="10.2" fill="#000" textLength="33.0" lengthAdjust="spacingAndGlyphs">119.640</text>
<rect x="1167" y="83" width="2" height="1" fill="#000"/>
<text x="1172.4" y="87" font-size="10.2" fill="#000" textLength="33.0" lengthAdjust="spacingAndGlyphs">117.605</text>
<rect x="1167" y="116" width="2" height="1" fill="#000"/>
<text x="1172.4" y="120" font-size="10.2" fill="#000" textLength="33.0" lengthAdjust="spacingAndGlyphs">115.625</text>
<rect x="1167" y="149" width="2" height="1" fill="#000"/>
<text x="1172.4" y="153" font-size="10.2" fill="#000" textLength="33.0" lengthAdjust="spacingAndGlyphs">113.645</text>
<rect x="1167" y="182" width="2" height="1" fill="#000"/>
<text x="1172.4" y="186" font-size="10.2" fill="#000" textLength="33.0" lengthAdjust="spacingAndGlyphs">111.665</text>
<rect x="1167" y="215" width="2" height="1" fill="#000"/>
<text x="1172.4" y="219" font-size="10.2" fill="#000" textLength="33.0" lengthAdjust="spacingAndGlyphs">109.685</text>
<rect x="1167" y="248" width="2" height="1" fill="#000"/>
<text x="1172.4" y="252" font-size="10.2" fill="#000" textLength="33.0" lengthAdjust="spacingAndGlyphs">107.705</text>
<rect x="1167" y="281" width="2" height="1" fill="#000"/>
<text x="1172.4" y="285" font-size="10.2" fill="#000" textLength="33.0" lengthAdjust="spacingAndGlyphs">105.725</text>
<rect x="1167" y="314" width="2" height="1" fill="#000"/>
<text x="1172.4" y="318" font-size="10.2" fill="#000" textLength="33.0" lengthAdjust="spacingAndGlyphs">103.745</text>
<rect x="1167" y="347" width="2" height="1" fill="#000"/>
<text x="1172.4" y="351" font-size="10.2" fill="#000" textLength="33.0" lengthAdjust="spacingAndGlyphs">101.765</text>
<rect x="1167" y="380" width="2" height="1" fill="#000"/>
<text x="1171.5" y="384" font-size="10.2" fill="#000" textLength="29.0" lengthAdjust="spacingAndGlyphs">99.785</text>
<rect x="1167" y="413" width="2" height="1" fill="#000"/>
<text x="1171.5" y="417" font-size="10.2" fill="#000" textLength="29.0" lengthAdjust="spacingAndGlyphs">97.805</text>
<rect x="1168" y="147" width="39" height="11" fill="#000"/>
<rect x="1168" y="37" width="39" height="11" fill="#ff0000"/>
<text x="1172.4" y="46" font-size="10.2" fill="#fff" textLength="32.6" lengthAdjust="spacingAndGlyphs">120.011</text>
<rect x="1168" y="87" width="39" height="11" fill="#ff0000"/>
<text x="1172.4" y="96" font-size="10.2" fill="#fff" textLength="32.6" lengthAdjust="spacingAndGlyphs">117.019</text>
<rect x="1168" y="145" width="39" height="11" fill="#00ff00"/>
<text x="1172.4" y="154" font-size="10.2" fill="#fff" textLength="32.6" lengthAdjust="spacingAndGlyphs">113.518</text>
<rect x="1168" y="204" width="39" height="11" fill="#0000ff"/>
<text x="1172.4" y="213" font-size="10.2" fill="#fff" textLength="32.6" lengthAdjust="spacingAndGlyphs">110.017</text>
<rect x="1168" y="253" width="39" height="11" fill="#0000ff"/>
<text x="1172.4" y="262" font-size="10.2" fill="#fff" textLength="32.6" lengthAdjust="spacingAndGlyphs">107.056</text>
<g clip-path="url(#cm2)">
<rect x="3" y="435" width="3" height="23" fill="#c0c0c0"/>
<rect x="11" y="435" width="3" height="23" fill="#c0c0c0"/>
<rect x="19" y="437" width="3" height="21" fill="#c0c0c0"/>
<rect x="27" y="437" width="3" height="21" fill="#c0c0c0"/>
<rect x="35" y="439" width="3" height="19" fill="#c0c0c0"/>
<rect x="43" y="443" width="3" height="15" fill="#c0c0c0"/>
<rect x="51" y="450" width="3" height="8" fill="#c0c0c0"/>
<rect x="59" y="458" width="3" height="1" fill="#c0c0c0"/>
<rect x="67" y="458" width="3" height="6" fill="#c0c0c0"/>
<rect x="75" y="458" width="3" height="11" fill="#c0c0c0"/>
<rect x="83" y="458" width="3" height="13" fill="#c0c0c0"/>
<rect x="91" y="458" width="3" height="17" fill="#c0c0c0"/>
<rect x="99" y="458" width="3" height="21" fill="#c0c0c0"/>
<rect x="107" y="458" width="3" height="26" fill="#c0c0c0"/>
<rect x="115" y="458" width="3" height="29" fill="#c0c0c0"/>
<rect x="123" y="458" width="3" height="29" fill="#c0c0c0"/>
<rect x="131" y="458" width="3" height="27" fill="#c0c0c0"/>
<rect x="139" y="458" width="3" height="24" fill="#c0c0c0"/>
<rect x="147" y="458" width="3" height="19" fill="#c0c0c0"/>
<rect x="155" y="458" width="3" height="15" fill="#c0c0c0"/>
<rect x="163" y="458" width="3" height="11" fill="#c0c0c0"/>
<rect x="171" y="458" width="3" height="10" fill="#c0c0c0"/>
<rect x="179" y="458" width="3" height="9" fill="#c0c0c0"/>
<rect x="187" y="458" width="3" height="9" fill="#c0c0c0"/>
<rect x="195" y="458" width="3" height="5" fill="#c0c0c0"/>
<rect x="203" y="458" width="3" height="2" fill="#c0c0c0"/>
<rect x="211" y="456" width="3" height="2" fill="#c0c0c0"/>
<rect x="219" y="453" width="3" height="5" fill="#c0c0c0"/>
<rect x="227" y="451" width="3" height="7" fill="#c0c0c0"/>
<rect x="235" y="449" width="3" height="9" fill="#c0c0c0"/>
<rect x="243" y="445" width="3" height="13" fill="#c0c0c0"/>
<rect x="251" y="441" width="3" height="17" fill="#c0c0c0"/>
<rect x="259" y="439" width="3" height="19" fill="#c0c0c0"/>
<rect x="267" y="436" width="3" height="22" fill="#c0c0c0"/>
<rect x="275" y="436" width="3" height="22" fill="#c0c0c0"/>
<rect x="283" y="437" width="3" height="21" fill="#c0c0c0"/>
<rect x="291" y="437" width="3" height="21" fill="#c0c0c0"/>
<rect x="299" y="434" width="3" height="24" fill="#c0c0c0"/>
<rect x="307" y="430" width="3" height="28" fill="#c0c0c0"/>
<rect x="315" y="427" width="3" height="31" fill="#c0c0c0"/>
<rect x="323" y="426" width="3" height="32" fill="#c0c0c0"/>
<rect x="331" y="425" width="3" height="33" fill="#c0c0c0"/>
<rect x="339" y="423" width="3" height="35" fill="#c0c0c0"/>
<rect x="347" y="423" width="3" height="35" fill="#c0c0c0"/>
<rect x="355" y="426" width="3" height="32" fill="#c0c0c0"/>
<rect x="363" y="427" width="3" height="31" fill="#c0c0c0"/>
<rect x="371" y="428" width="3" height="30" fill="#c0c0c0"/>
<rect x="379" y="429" width="3" height="29" fill="#c0c0c0"/>
<rect x="387" y="428" width="3" height="30" fill="#c0c0c0"/>
<rect x="395" y="434" width="3" height="24" fill="#c0c0c0"/>
<rect x="403" y="440" width="3" height="18" fill="#c0c0c0"/>
<rect x="411" y="449" width="3" height="9" fill="#c0c0c0"/>
<rect x="419" y="454" width="3" height="4" fill="#c0c0c0"/>
<rect x="427" y="458" width="3" height="1" fill="#c0c0c0"/>
<rect x="435" y="458" width="3" height="7" fill="#c0c0c0"/>
<rect x="443" y="458" width="3" height="9" fill="#c0c0c0"/>
<rect x="451" y="458" width="3" height="8" fill="#c0c0c0"/>
<rect x="459" y="458" width="3" height="8" fill="#c0c0c0"/>
<rect x="467" y="458" width="3" height="8" fill="#c0c0c0"/>
<rect x="475" y="458" width="3" height="7" fill="#c0c0c0"/>
<rect x="483" y="458" width="3" height="5" fill="#c0c0c0"/>
<rect x="491" y="458" width="3" height="4" fill="#c0c0c0"/>
<rect x="499" y="458" width="3" height="3" fill="#c0c0c0"/>
<rect x="507" y="458" width="3" height="1" fill="#c0c0c0"/>
<rect x="515" y="458" width="3" height="1" fill="#c0c0c0"/>
<rect x="523" y="457" width="3" height="1" fill="#c0c0c0"/>
<rect x="531" y="455" width="3" height="3" fill="#c0c0c0"/>
<rect x="539" y="454" width="3" height="4" fill="#c0c0c0"/>
<rect x="547" y="455" width="3" height="3" fill="#c0c0c0"/>
<rect x="555" y="455" width="3" height="3" fill="#c0c0c0"/>
<rect x="563" y="457" width="3" height="1" fill="#c0c0c0"/>
<rect x="571" y="457" width="3" height="1" fill="#c0c0c0"/>
<rect x="579" y="458" width="3" height="1" fill="#c0c0c0"/>
<rect x="587" y="457" width="3" height="1" fill="#c0c0c0"/>
<rect x="595" y="458" width="3" height="1" fill="#c0c0c0"/>
<rect x="603" y="458" width="3" height="1" fill="#c0c0c0"/>
<rect x="619" y="456" width="3" height="2" fill="#c0c0c0"/>
<rect x="627" y="456" width="3" height="2" fill="#c0c0c0"/>
<rect x="635" y="454" width="3" height="4" fill="#c0c0c0"/>
<rect x="643" y="457" width="3" height="1" fill="#c0c0c0"/>
<rect x="651" y="456" width="3" height="2" fill="#c0c0c0"/>
<rect x="659" y="456" width="3" height="2" fill="#c0c0c0"/>
<rect x="667" y="457" width="3" height="1" fill="#c0c0c0"/>
<rect x="675" y="455" width="3" height="3" fill="#c0c0c0"/>
<rect x="683" y="455" width="3" height="3" fill="#c0c0c0"/>
<rect x="691" y="451" width="3" height="7" fill="#c0c0c0"/>
<rect x="699" y="448" width="3" height="10" fill="#c0c0c0"/>
<rect x="707" y="446" width="3" height="12" fill="#c0c0c0"/>
<rect x="715" y="444" width="3" height="14" fill="#c0c0c0"/>
<rect x="723" y="443" width="3" height="15" fill="#c0c0c0"/>
<rect x="731" y="443" width="3" height="15" fill="#c0c0c0"/>
<rect x="739" y="442" width="3" height="16" fill="#c0c0c0"/>
<rect x="747" y="441" width="3" height="17" fill="#c0c0c0"/>
<rect x="755" y="440" width="3" height="18" fill="#c0c0c0"/>
<rect x="763" y="439" width="3" height="19" fill="#c0c0c0"/>
<rect x="771" y="438" width="3" height="20" fill="#c0c0c0"/>
<rect x="779" y="438" width="3" height="20" fill="#c0c0c0"/>
<rect x="787" y="437" width="3" height="21" fill="#c0c0c0"/>
<rect x="795" y="437" width="3" height="21" fill="#c0c0c0"/>
<rect x="803" y="437" width="3" height="21" fill="#c0c0c0"/>
<rect x="811" y="436" width="3" height="22" fill="#c0c0c0"/>
<rect x="819" y="434" width="3" height="24" fill="#c0c0c0"/>
<rect x="827" y="432" width="3" height="26" fill="#c0c0c0"/>
<rect x="835" y="431" width="3" height="27" fill="#c0c0c0"/>
<rect x="843" y="433" width="3" height="25" fill="#c0c0c0"/>
<rect x="851" y="437" width="3" height="21" fill="#c0c0c0"/>
<rect x="859" y="440" width="3" height="18" fill="#c0c0c0"/>
<rect x="867" y="443" width="3" height="15" fill="#c0c0c0"/>
<rect x="875" y="444" width="3" height="14" fill="#c0c0c0"/>
<rect x="883" y="446" width="3" height="12" fill="#c0c0c0"/>
<rect x="891" y="447" width="3" height="11" fill="#c0c0c0"/>
<rect x="899" y="449" width="3" height="9" fill="#c0c0c0"/>
<rect x="907" y="452" width="3" height="6" fill="#c0c0c0"/>
<rect x="915" y="455" width="3" height="3" fill="#c0c0c0"/>
</g>
<path d="M367 426h27v1h-27zM361 427h6v1h-6zM394 427h4v1h-4zM353 428h8v1h-8zM398 428h4v1h-4zM347 429h6v1h-6zM402 429h4v1h-4zM343 430h4v1h-4zM406 430h2v1h-2zM337 431h6v1h-6zM408 431h3v1h-3zM331 432h6v1h-6zM411 432h3v1h-3zM327 433h4v1h-4zM414 433h2v1h-2zM321 434h6v1h-6zM416 434h3v1h-3zM315 435h6v1h-6zM419 435h3v1h-3zM841 435h25v1h-25zM311 436h4v1h-4zM422 436h2v1h-2zM825 436h16v1h-16zM866 436h6v1h-6zM9 437h31v1h-31zM305 437h6v1h-6zM424 437h3v1h-3zM817 437h8v1h-8zM872 437h8v1h-8zM4 438h5v1h-5zM40 438h8v1h-8zM299 438h6v1h-6zM427 438h2v1h-2zM809 438h8v1h-8zM880 438h8v1h-8zM48 439h6v1h-6zM297 439h2v1h-2zM429 439h2v1h-2zM801 439h8v1h-8zM888 439h6v1h-6zM54 440h4v1h-4zM294 440h3v1h-3zM431 440h1v1h-1zM785 440h16v1h-16zM894 440h4v1h-4zM58 441h3v1h-3zM291 441h3v1h-3zM432 441h2v1h-2zM777 441h8v1h-8zM898 441h4v1h-4zM61 442h2v1h-2zM287 442h4v1h-4zM434 442h2v1h-2zM769 442h8v1h-8zM902 442h4v1h-4zM63 443h2v1h-2zM283 443h4v1h-4zM436 443h1v1h-1zM763 443h6v1h-6zM906 443h4v1h-4zM65 444h2v1h-2zM279 444h4v1h-4zM437 444h2v1h-2zM759 444h4v1h-4zM910 444h2v1h-2zM67 445h3v1h-3zM275 445h4v1h-4zM439 445h2v1h-2zM753 445h6v1h-6zM912 445h3v1h-3zM70 446h2v1h-2zM273 446h2v1h-2zM441 446h2v1h-2zM747 446h6v1h-6zM915 446h2v1h-2zM72 447h3v1h-3zM270 447h3v1h-3zM443 447h2v1h-2zM743 447h4v1h-4zM75 448h2v1h-2zM267 448h3v1h-3zM445 448h2v1h-2zM737 448h6v1h-6zM77 449h2v1h-2zM265 449h2v1h-2zM447 449h2v1h-2zM729 449h8v1h-8zM79 450h2v1h-2zM262 450h3v1h-3zM449 450h2v1h-2zM723 450h6v1h-6zM81 451h2v1h-2zM259 451h3v1h-3zM451 451h3v1h-3zM719 451h4v1h-4zM83 452h2v1h-2zM257 452h2v1h-2zM454 452h2v1h-2zM713 452h6v1h-6zM85 453h2v1h-2zM254 453h3v1h-3zM456 453h3v1h-3zM705 453h8v1h-8zM87 454h2v1h-2zM251 454h3v1h-3zM459 454h2v1h-2zM697 454h8v1h-8zM89 455h2v1h-2zM248 455h3v1h-3zM461 455h2v1h-2zM690 455h7v1h-7zM91 456h3v1h-3zM245 456h3v1h-3zM463 456h2v1h-2zM559 456h51v1h-51zM664 456h26v1h-26zM94 457h2v1h-2zM241 457h4v1h-4zM465 457h2v1h-2zM553 457h6v1h-6zM610 457h55v1h-55zM96 458h3v1h-3zM238 458h3v1h-3zM467 458h3v1h-3zM545 458h8v1h-8zM99 459h2v1h-2zM235 459h3v1h-3zM470 459h2v1h-2zM537 459h8v1h-8zM101 460h1v1h-1zM231 460h4v1h-4zM472 460h3v1h-3zM529 460h8v1h-8zM102 461h2v1h-2zM227 461h4v1h-4zM475 461h3v1h-3zM521 461h8v1h-8zM104 462h1v1h-1zM223 462h4v1h-4zM478 462h4v1h-4zM513 462h8v1h-8zM105 463h1v1h-1zM219 463h4v1h-4zM482 463h6v1h-6zM505 463h8v1h-8zM106 464h2v1h-2zM217 464h2v1h-2zM488 464h17v1h-17zM108 465h1v1h-1zM214 465h3v1h-3zM109 466h2v1h-2zM211 466h3v1h-3zM111 467h1v1h-1zM209 467h2v1h-2zM112 468h2v1h-2zM206 468h3v1h-3zM114 469h2v1h-2zM203 469h3v1h-3zM116 470h1v1h-1zM199 470h4v1h-4zM117 471h2v1h-2zM195 471h4v1h-4zM119 472h2v1h-2zM191 472h4v1h-4zM121 473h2v1h-2zM187 473h4v1h-4zM123 474h3v1h-3zM185 474h2v1h-2zM126 475h2v1h-2zM182 475h3v1h-3zM128 476h3v1h-3zM179 476h3v1h-3zM131 477h3v1h-3zM175 477h4v1h-4zM134 478h4v1h-4zM169 478h6v1h-6zM138 479h6v1h-6zM161 479h8v1h-8zM144 480h17v1h-17z" fill="#ff0000"/>
<text x="7.8" y="431" font-size="10.2" fill="#000" textLength="128.6" lengthAdjust="spacingAndGlyphs">MACD(12,26,9) 0.2018 0.8255</text>
<text x="1169.6" y="429" font-size="10.2" fill="#000" textLength="28.5" lengthAdjust="spacingAndGlyphs">2.5593</text>
<text x="1169.6" y="462" font-size="10.2" fill="#000" textLength="18.5" lengthAdjust="spacingAndGlyphs">0.00</text>
<text x="1169.6" y="487" font-size="10.2" fill="#000" textLength="31.5" lengthAdjust="spacingAndGlyphs">-2.0366</text>
<rect x="1167" y="420" width="1" height="1" fill="#000"/>
<rect x="1167" y="458" width="1" height="1" fill="#000"/>
<rect x="1167" y="489" width="1" height="1" fill="#000"/>
<path d="M5 515.5H1166" stroke="#c0c0c0" stroke-width="1" stroke-dasharray="3 3" fill="none"/>
<path d="M5 544.5H1166" stroke="#c0c0c0" stroke-width="1" stroke-dasharray="3 3" fill="none"/>
<path d="M825 508h5v1h-5zM819 509h6v1h-6zM830 509h2v1h-2zM815 510h4v1h-4zM832 510h3v1h-3zM811 511h4v1h-4zM835 511h2v1h-2zM809 512h2v1h-2zM837 512h1v1h-1zM806 513h3v1h-3zM838 513h1v2h-1zM339 514h2v1h-2zM801 514h5v1h-5zM307 515h11v1h-11zM335 515h4v1h-4zM341 515h2v1h-2zM769 515h7v1h-7zM793 515h8v1h-8zM839 515h1v1h-1zM267 516h2v1h-2zM303 516h4v1h-4zM318 516h4v1h-4zM329 516h6v1h-6zM343 516h1v1h-1zM761 516h8v1h-8zM776 516h17v1h-17zM840 516h1v1h-1zM263 517h4v1h-4zM269 517h1v1h-1zM300 517h3v1h-3zM322 517h7v1h-7zM344 517h2v1h-2zM692 517h2v1h-2zM747 517h14v1h-14zM841 517h1v1h-1zM4 518h2v1h-2zM244 518h19v1h-19zM270 518h1v1h-1zM299 518h1v1h-1zM346 518h2v1h-2zM691 518h1v1h-1zM694 518h4v1h-4zM713 518h12v1h-12zM743 518h4v1h-4zM842 518h1v2h-1zM6 519h4v1h-4zM242 519h2v1h-2zM271 519h1v1h-1zM297 519h2v1h-2zM348 519h1v1h-1zM690 519h1v1h-1zM698 519h15v1h-15zM725 519h2v1h-2zM739 519h4v1h-4zM10 520h3v1h-3zM241 520h1v1h-1zM272 520h1v1h-1zM296 520h1v1h-1zM349 520h2v1h-2zM385 520h4v1h-4zM689 520h1v1h-1zM727 520h2v1h-2zM737 520h2v1h-2zM843 520h1v1h-1zM13 521h2v1h-2zM239 521h2v1h-2zM273 521h1v1h-1zM295 521h1v1h-1zM351 521h1v1h-1zM363 521h3v1h-3zM379 521h6v1h-6zM389 521h1v2h-1zM688 521h1v2h-1zM729 521h2v1h-2zM734 521h3v1h-3zM844 521h1v1h-1zM15 522h2v1h-2zM27 522h2v1h-2zM219 522h3v1h-3zM237 522h2v1h-2zM274 522h1v1h-1zM293 522h2v1h-2zM352 522h2v1h-2zM361 522h2v1h-2zM366 522h4v1h-4zM375 522h4v1h-4zM731 522h3v1h-3zM845 522h1v1h-1zM17 523h2v1h-2zM23 523h4v1h-4zM29 523h2v1h-2zM215 523h4v1h-4zM222 523h2v1h-2zM235 523h2v1h-2zM275 523h1v1h-1zM289 523h4v1h-4zM354 523h2v1h-2zM358 523h3v1h-3zM370 523h5v1h-5zM390 523h1v1h-1zM687 523h1v1h-1zM846 523h1v1h-1zM19 524h4v1h-4zM31 524h2v1h-2zM201 524h14v1h-14zM224 524h3v1h-3zM231 524h4v1h-4zM276 524h13v1h-13zM356 524h2v1h-2zM391 524h1v1h-1zM686 524h1v1h-1zM847 524h1v1h-1zM876 524h1v1h-1zM33 525h2v1h-2zM196 525h5v1h-5zM227 525h4v1h-4zM392 525h1v2h-1zM531 525h3v1h-3zM685 525h1v1h-1zM848 525h2v1h-2zM874 525h2v1h-2zM877 525h2v1h-2zM35 526h2v1h-2zM163 526h3v1h-3zM194 526h2v1h-2zM527 526h4v1h-4zM534 526h4v1h-4zM619 526h5v1h-5zM633 526h4v1h-4zM673 526h12v1h-12zM850 526h1v1h-1zM873 526h1v1h-1zM879 526h1v1h-1zM891 526h2v1h-2zM37 527h2v1h-2zM148 527h4v1h-4zM159 527h4v1h-4zM166 527h2v1h-2zM193 527h1v1h-1zM393 527h1v1h-1zM497 527h7v1h-7zM521 527h6v1h-6zM538 527h4v1h-4zM615 527h4v1h-4zM624 527h9v1h-9zM637 527h1v1h-1zM665 527h8v1h-8zM851 527h1v1h-1zM871 527h2v1h-2zM880 527h2v1h-2zM889 527h2v1h-2zM893 527h2v1h-2zM39 528h1v1h-1zM146 528h2v1h-2zM152 528h7v1h-7zM168 528h3v1h-3zM191 528h2v1h-2zM394 528h1v1h-1zM481 528h16v1h-16zM504 528h17v1h-17zM542 528h4v1h-4zM553 528h5v1h-5zM588 528h2v1h-2zM609 528h6v1h-6zM638 528h1v1h-1zM652 528h13v1h-13zM852 528h2v1h-2zM869 528h2v1h-2zM882 528h2v1h-2zM886 528h3v1h-3zM895 528h1v1h-1zM40 529h2v1h-2zM144 529h2v1h-2zM171 529h3v1h-3zM189 529h2v1h-2zM395 529h1v2h-1zM475 529h6v1h-6zM546 529h7v1h-7zM558 529h2v1h-2zM586 529h2v1h-2zM590 529h4v1h-4zM601 529h8v1h-8zM639 529h1v1h-1zM650 529h2v1h-2zM854 529h4v1h-4zM865 529h4v1h-4zM884 529h2v1h-2zM896 529h2v1h-2zM42 530h2v1h-2zM142 530h2v1h-2zM174 530h4v1h-4zM185 530h4v1h-4zM457 530h5v1h-5zM473 530h2v1h-2zM560 530h3v1h-3zM584 530h2v1h-2zM594 530h7v1h-7zM640 530h2v1h-2zM649 530h1v1h-1zM858 530h7v1h-7zM898 530h2v1h-2zM44 531h1v1h-1zM140 531h2v1h-2zM178 531h7v1h-7zM396 531h4v1h-4zM451 531h6v1h-6zM462 531h4v1h-4zM470 531h3v1h-3zM563 531h13v1h-13zM582 531h2v1h-2zM642 531h1v1h-1zM647 531h2v1h-2zM900 531h1v1h-1zM45 532h1v1h-1zM138 532h2v1h-2zM400 532h5v1h-5zM447 532h4v1h-4zM466 532h4v1h-4zM576 532h6v1h-6zM643 532h1v1h-1zM645 532h2v1h-2zM901 532h2v1h-2zM46 533h2v1h-2zM136 533h2v1h-2zM405 533h1v1h-1zM444 533h3v1h-3zM644 533h1v1h-1zM903 533h2v1h-2zM48 534h1v1h-1zM134 534h2v1h-2zM406 534h1v1h-1zM420 534h4v1h-4zM442 534h2v1h-2zM905 534h2v1h-2zM49 535h1v1h-1zM129 535h5v1h-5zM407 535h1v1h-1zM418 535h2v1h-2zM424 535h6v1h-6zM441 535h1v1h-1zM907 535h10v1h-10zM50 536h2v1h-2zM84 536h2v1h-2zM124 536h5v1h-5zM408 536h2v1h-2zM417 536h1v1h-1zM430 536h2v1h-2zM439 536h2v1h-2zM52 537h1v1h-1zM83 537h1v1h-1zM86 537h2v1h-2zM123 537h1v1h-1zM410 537h1v1h-1zM415 537h2v1h-2zM432 537h3v1h-3zM437 537h2v1h-2zM53 538h2v1h-2zM81 538h2v1h-2zM88 538h3v1h-3zM122 538h1v1h-1zM411 538h1v1h-1zM413 538h2v1h-2zM435 538h2v1h-2zM55 539h2v1h-2zM80 539h1v1h-1zM91 539h3v1h-3zM121 539h1v1h-1zM412 539h1v1h-1zM57 540h2v1h-2zM65 540h5v1h-5zM79 540h1v1h-1zM94 540h4v1h-4zM120 540h1v1h-1zM59 541h6v1h-6zM70 541h4v1h-4zM77 541h2v1h-2zM98 541h4v1h-4zM119 541h1v1h-1zM74 542h3v1h-3zM102 542h4v1h-4zM118 542h1v1h-1zM106 543h6v1h-6zM117 543h1v1h-1zM112 544h5v1h-5z" fill="#1e90ff"/>
<text x="7.8" y="505" font-size="10.2" fill="#000" textLength="68.0" lengthAdjust="spacingAndGlyphs">RSI(14) 42.5132</text>
<text x="1169.6" y="503" font-size="10.2" fill="#000" textLength="15.8" lengthAdjust="spacingAndGlyphs">100</text>
<text x="1169.6" y="519" font-size="10.2" fill="#000" textLength="10.5" lengthAdjust="spacingAndGlyphs">70</text>
<text x="1169.6" y="548" font-size="10.2" fill="#000" textLength="10.5" lengthAdjust="spacingAndGlyphs">30</text>
<text x="1169.6" y="563" font-size="10.2" fill="#000" textLength="5.6" lengthAdjust="spacingAndGlyphs">0</text>
<rect x="1167" y="494" width="1" height="1" fill="#000"/>
<rect x="1167" y="565" width="1" height="1" fill="#000"/>
<rect x="4" y="567" width="1" height="3" fill="#000"/>
<text x="3.0" y="579" font-size="10.2" fill="#000" textLength="49.5" lengthAdjust="spacingAndGlyphs">6 May 2022</text>
<rect x="68" y="567" width="1" height="3" fill="#000"/>
<text x="67.0" y="579" font-size="10.2" fill="#000" textLength="52.8" lengthAdjust="spacingAndGlyphs">9 May 20:00</text>
<rect x="132" y="567" width="1" height="3" fill="#000"/>
<text x="131.0" y="579" font-size="10.2" fill="#000" textLength="58.4" lengthAdjust="spacingAndGlyphs">11 May 04:00</text>
<rect x="196" y="567" width="1" height="3" fill="#000"/>
<text x="195.0" y="579" font-size="10.2" fill="#000" textLength="58.1" lengthAdjust="spacingAndGlyphs">12 May 12:00</text>
<rect x="260" y="567" width="1" height="3" fill="#000"/>
<text x="259.0" y="579" font-size="10.2" fill="#000" textLength="58.3" lengthAdjust="spacingAndGlyphs">13 May 20:00</text>
<rect x="324" y="567" width="1" height="3" fill="#000"/>
<text x="323.0" y="579" font-size="10.2" fill="#000" textLength="58.1" lengthAdjust="spacingAndGlyphs">17 May 00:00</text>
<rect x="388" y="567" width="1" height="3" fill="#000"/>
<text x="387.0" y="579" font-size="10.2" fill="#000" textLength="57.8" lengthAdjust="spacingAndGlyphs">18 May 08:00</text>
<rect x="452" y="567" width="1" height="3" fill="#000"/>
<text x="451.0" y="579" font-size="10.2" fill="#000" textLength="57.9" lengthAdjust="spacingAndGlyphs">19 May 16:00</text>
<rect x="516" y="567" width="1" height="3" fill="#000"/>
<text x="515.0" y="579" font-size="10.2" fill="#000" textLength="57.7" lengthAdjust="spacingAndGlyphs">22 May 23:00</text>
<rect x="580" y="567" width="1" height="3" fill="#000"/>
<text x="579.0" y="579" font-size="10.2" fill="#000" textLength="57.8" lengthAdjust="spacingAndGlyphs">24 May 04:00</text>
<rect x="644" y="567" width="1" height="3" fill="#000"/>
<text x="643.0" y="579" font-size="10.2" fill="#000" textLength="58.4" lengthAdjust="spacingAndGlyphs">25 May 12:00</text>
<rect x="708" y="567" width="1" height="3" fill="#000"/>
<text x="707.0" y="579" font-size="10.2" fill="#000" textLength="57.4" lengthAdjust="spacingAndGlyphs">26 May 20:00</text>
<rect x="772" y="567" width="1" height="3" fill="#000"/>
<text x="771.0" y="579" font-size="10.2" fill="#000" textLength="57.9" lengthAdjust="spacingAndGlyphs">30 May 00:00</text>
<rect x="836" y="567" width="1" height="3" fill="#000"/>
<text x="835.0" y="579" font-size="10.2" fill="#000" textLength="58.1" lengthAdjust="spacingAndGlyphs">31 May 08:00</text>
<rect x="900" y="567" width="1" height="3" fill="#000"/>
<text x="899.0" y="579" font-size="10.2" fill="#000" textLength="48.4" lengthAdjust="spacingAndGlyphs">1 Jun 16:00</text>
<rect x="0" y="587" width="1207" height="1" fill="#ececec"/>
<rect x="0" y="588" width="1207" height="1" fill="#fafafa"/>
<rect x="0" y="590" width="1207" height="19" fill="#f0f0f0"/>
<rect x="0" y="609" width="1207" height="1" fill="#fcfcfc"/>
<rect x="0" y="610" width="1207" height="1" fill="#f6f6f6"/>
<rect x="0" y="611" width="1207" height="1" fill="#eeeeee"/>
<rect x="0" y="612" width="1207" height="1" fill="#d4d4d4"/>
<rect x="0" y="613" width="1207" height="1" fill="#a8a8a8"/>
<rect x="0" y="614" width="1207" height="2" fill="#f2f2f2"/>
<rect x="0" y="589" width="1207" height="1" fill="#000"/>
<rect x="0" y="590" width="1" height="18" fill="#444"/>
<rect x="986" y="588" width="79" height="19" fill="#fff"/>
<rect x="985" y="589" width="1" height="19" fill="#000"/>
<rect x="1064" y="589" width="1" height="19" fill="#000"/>
<rect x="985" y="607" width="80" height="1" fill="#000"/>
<text x="15.700000000000001" y="604" font-size="13" fill="#6e6e6e" textLength="86.1" lengthAdjust="spacingAndGlyphs">EURUSD-,Daily</text>
<text x="122.7" y="604" font-size="13" fill="#6e6e6e" textLength="87.8" lengthAdjust="spacingAndGlyphs">AUDUSD-,Daily</text>
<text x="232.70000000000002" y="604" font-size="13" fill="#6e6e6e" textLength="85.1" lengthAdjust="spacingAndGlyphs">USDCHF-,Daily</text>
<text x="339.7" y="604" font-size="13" fill="#6e6e6e" textLength="86.9" lengthAdjust="spacingAndGlyphs">USDCAD-,Daily</text>
<text x="448.9" y="604" font-size="13" fill="#6e6e6e" textLength="88.9" lengthAdjust="spacingAndGlyphs">USDCNH-,Daily</text>
<text x="559.3" y="604" font-size="13" fill="#6e6e6e" textLength="75.3" lengthAdjust="spacingAndGlyphs">XAUUSD-,H4</text>
<text x="655.6999999999999" y="604" font-size="13" fill="#6e6e6e" textLength="57.7" lengthAdjust="spacingAndGlyphs">UKOil-,H1</text>
<text x="736.4" y="604" font-size="13" fill="#6e6e6e" textLength="69.4" lengthAdjust="spacingAndGlyphs">USOil-,Daily</text>
<text x="827.1999999999999" y="604" font-size="13" fill="#6e6e6e" textLength="55.1" lengthAdjust="spacingAndGlyphs">HK50-,H1</text>
<text x="902.8" y="604" font-size="13" fill="#6e6e6e" textLength="71.4" lengthAdjust="spacingAndGlyphs">EURCHF-,H1</text>
<text x="996.6" y="604" font-size="13" fill="#000" textLength="57.1" lengthAdjust="spacingAndGlyphs">USOil-,H4</text>
<text x="1075.7" y="604" font-size="13" fill="#6e6e6e" textLength="57.5" lengthAdjust="spacingAndGlyphs">UKOil-,H4</text>
<rect x="113" y="592" width="1" height="14" fill="#5a5a5a"/>
<rect x="221" y="592" width="1" height="14" fill="#5a5a5a"/>
<rect x="329" y="592" width="1" height="14" fill="#5a5a5a"/>
<rect x="437" y="592" width="1" height="14" fill="#5a5a5a"/>
<rect x="549" y="592" width="1" height="14" fill="#5a5a5a"/>
<rect x="645" y="592" width="1" height="14" fill="#5a5a5a"/>
<rect x="725" y="592" width="1" height="14" fill="#5a5a5a"/>
<rect x="817" y="592" width="1" height="14" fill="#5a5a5a"/>
<rect x="893" y="592" width="1" height="14" fill="#5a5a5a"/>
<rect x="1145" y="592" width="1" height="14" fill="#5a5a5a"/>
<path d="M1181 598.5l4 -4v8z" fill="#000" shape-rendering="auto"/>
<path d="M1205 598.5l-4 -4v8z" fill="#a0a0a0" shape-rendering="auto"/>
</svg>
</body></html>
